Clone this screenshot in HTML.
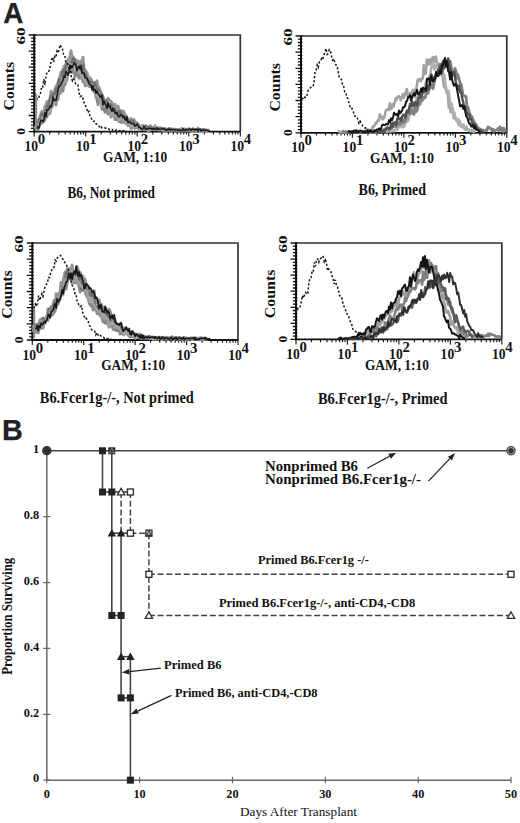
<!DOCTYPE html>
<html><head><meta charset="utf-8"><style>
html,body{margin:0;padding:0;background:#fff;}
svg{display:block;}
</style></head><body>
<svg width="520" height="823" viewBox="0 0 520 823">
<rect width="520" height="823" fill="#fff"/>
<path d="M34.2 35.0 H240.3 V131.6" fill="none" stroke="#333" stroke-width="1.7"/>
<path d="M34.2 34.5 V132.4" stroke="#111" stroke-width="2.0"/>
<path d="M33.2 131.6 H240.3" stroke="#111" stroke-width="1.8"/>
<path d="M28.7 131.6 H35.6 M31.0 128.4 H35.6 M31.0 125.2 H35.6 M31.0 121.9 H35.6 M31.0 118.7 H35.6 M28.7 115.5 H35.6 M31.0 112.3 H35.6 M31.0 109.1 H35.6 M31.0 105.8 H35.6 M31.0 102.6 H35.6 M28.7 99.4 H35.6 M31.0 96.2 H35.6 M31.0 93.0 H35.6 M31.0 89.7 H35.6 M31.0 86.5 H35.6 M28.7 83.3 H35.6 M31.0 80.1 H35.6 M31.0 76.9 H35.6 M31.0 73.6 H35.6 M31.0 70.4 H35.6 M28.7 67.2 H35.6 M31.0 64.0 H35.6 M31.0 60.8 H35.6 M31.0 57.5 H35.6 M31.0 54.3 H35.6 M28.7 51.1 H35.6 M31.0 47.9 H35.6 M31.0 44.7 H35.6 M31.0 41.4 H35.6 M31.0 38.2 H35.6 M28.7 35.0 H35.6" stroke="#111" stroke-width="1.3"/>
<path d="M34.2 131.6 V136.6 M49.7 131.6 V134.4 M58.8 131.6 V134.4 M65.2 131.6 V134.4 M70.2 131.6 V134.4 M74.3 131.6 V134.4 M77.7 131.6 V134.4 M80.7 131.6 V134.4 M83.4 131.6 V134.4 M85.7 131.6 V136.6 M101.2 131.6 V134.4 M110.3 131.6 V134.4 M116.7 131.6 V134.4 M121.7 131.6 V134.4 M125.8 131.6 V134.4 M129.3 131.6 V134.4 M132.3 131.6 V134.4 M134.9 131.6 V134.4 M137.2 131.6 V136.6 M152.8 131.6 V134.4 M161.8 131.6 V134.4 M168.3 131.6 V134.4 M173.3 131.6 V134.4 M177.3 131.6 V134.4 M180.8 131.6 V134.4 M183.8 131.6 V134.4 M186.4 131.6 V134.4 M188.8 131.6 V136.6 M204.3 131.6 V134.4 M213.4 131.6 V134.4 M219.8 131.6 V134.4 M224.8 131.6 V134.4 M228.9 131.6 V134.4 M232.3 131.6 V134.4 M235.3 131.6 V134.4 M237.9 131.6 V134.4 M240.3 131.6 V136.6" stroke="#111" stroke-width="1.1"/>
<text x="24.4" y="151.2" font-family="Liberation Serif" font-size="14.6" font-weight="bold" text-anchor="start" fill="#111" textLength="13.6" lengthAdjust="spacingAndGlyphs">10</text>
<text x="37.7" y="144.2" font-family="Liberation Serif" font-size="14.6" font-weight="bold" text-anchor="start" fill="#111" textLength="7.4" lengthAdjust="spacingAndGlyphs">0</text>
<text x="75.9" y="151.2" font-family="Liberation Serif" font-size="14.6" font-weight="bold" text-anchor="start" fill="#111" textLength="13.6" lengthAdjust="spacingAndGlyphs">10</text>
<text x="89.2" y="144.2" font-family="Liberation Serif" font-size="14.6" font-weight="bold" text-anchor="start" fill="#111" textLength="7.4" lengthAdjust="spacingAndGlyphs">1</text>
<text x="127.5" y="151.2" font-family="Liberation Serif" font-size="14.6" font-weight="bold" text-anchor="start" fill="#111" textLength="13.6" lengthAdjust="spacingAndGlyphs">10</text>
<text x="140.8" y="144.2" font-family="Liberation Serif" font-size="14.6" font-weight="bold" text-anchor="start" fill="#111" textLength="7.4" lengthAdjust="spacingAndGlyphs">2</text>
<text x="179.0" y="151.2" font-family="Liberation Serif" font-size="14.6" font-weight="bold" text-anchor="start" fill="#111" textLength="13.6" lengthAdjust="spacingAndGlyphs">10</text>
<text x="192.3" y="144.2" font-family="Liberation Serif" font-size="14.6" font-weight="bold" text-anchor="start" fill="#111" textLength="7.4" lengthAdjust="spacingAndGlyphs">3</text>
<text x="230.5" y="151.2" font-family="Liberation Serif" font-size="14.6" font-weight="bold" text-anchor="start" fill="#111" textLength="13.6" lengthAdjust="spacingAndGlyphs">10</text>
<text x="243.8" y="144.2" font-family="Liberation Serif" font-size="14.6" font-weight="bold" text-anchor="start" fill="#111" textLength="7.4" lengthAdjust="spacingAndGlyphs">4</text>
<text x="103.1" y="162.0" font-family="Liberation Serif" font-size="14.6" font-weight="bold" text-anchor="start" fill="#111" textLength="64" lengthAdjust="spacingAndGlyphs">GAM, 1:10</text>
<text x="25.3" y="44.6" font-family="Liberation Serif" font-size="13.3" font-weight="bold" text-anchor="start" fill="#111" textLength="17.2" lengthAdjust="spacingAndGlyphs" transform="rotate(-90 25.3 44.6)">60</text>
<text x="25.3" y="134.8" font-family="Liberation Serif" font-size="13.3" font-weight="bold" text-anchor="start" fill="#111" textLength="6.8" lengthAdjust="spacingAndGlyphs" transform="rotate(-90 25.3 134.8)">0</text>
<text x="13.6" y="110.4" font-family="Liberation Serif" font-size="14.2" font-weight="bold" text-anchor="start" fill="#111" textLength="48.6" lengthAdjust="spacingAndGlyphs" transform="rotate(-90 13.6 110.4)">Counts</text>
<path d="M35.0 128.9 L36.0 125.9 L37.0 122.6 L38.0 122.2 L39.0 120.9 L40.0 116.4 L41.0 114.2 L42.0 111.3 L43.0 114.3 L44.0 112.6 L45.0 106.2 L46.0 105.1 L47.0 101.6 L48.0 101.3 L49.0 101.7 L50.0 99.7 L51.0 91.3 L52.0 95.0 L53.0 94.6 L54.0 94.4 L55.0 89.1 L56.0 86.6 L57.0 85.5 L58.0 82.6 L59.0 80.1 L60.0 76.6 L61.0 72.1 L62.0 71.8 L63.0 76.1 L64.0 66.2 L65.0 70.4 L66.0 63.5 L67.0 66.0 L68.0 59.6 L69.0 60.4 L70.0 56.1 L71.0 50.8 L72.0 58.6 L73.0 56.7 L74.0 65.5 L75.0 63.0 L76.0 59.9 L77.0 62.6 L78.0 61.1 L79.0 62.2 L80.0 66.1 L81.0 60.9 L82.0 65.7 L83.0 57.2 L84.0 70.0 L85.0 69.4 L86.0 73.2 L87.0 72.4 L88.0 79.5 L89.0 76.9 L90.0 82.1 L91.0 78.9 L92.0 81.2 L93.0 83.1 L94.0 86.4 L95.0 82.5 L96.0 83.8 L97.0 80.9 L98.0 87.6 L99.0 87.2 L100.0 89.9 L101.0 92.6 L102.0 94.4 L103.0 97.1 L104.0 101.4 L105.0 103.0 L106.0 101.9 L107.0 100.0 L108.0 98.3 L109.0 100.2 L110.0 100.5 L111.0 101.5 L112.0 102.6 L113.0 105.1 L114.0 105.2 L115.0 104.3 L116.0 109.8 L117.0 111.2 L118.0 106.1 L119.0 110.7 L120.0 110.1 L121.0 111.4 L122.0 116.5 L123.0 111.0 L124.0 112.2 L125.0 115.9 L126.0 115.5 L127.0 117.6 L128.0 120.5 L129.0 119.9 L130.0 119.5 L131.0 118.6 L132.0 119.9 L133.0 121.6 L134.0 119.7 L135.0 124.0 L136.0 122.3 L137.0 122.9 L138.0 125.9 L139.0 128.6 L140.0 127.7 L141.0 126.5 L142.0 126.5 L143.0 125.5 L144.0 129.1 L145.0 127.8 L146.0 127.0 L147.0 128.1 L148.0 130.6 L149.0 127.0 L150.0 125.5 L151.0 126.8 L152.0 129.4 L153.0 128.8 L154.0 128.0 L155.0 125.8 L156.0 128.1 L157.0 128.4 L158.0 127.7 L159.0 128.7 L160.0 127.7 L161.0 129.3 L162.0 129.2 L163.0 128.7 L164.0 128.4 L165.0 128.9 L166.0 129.2 L167.0 130.5 L168.0 129.9 L169.0 129.9 L170.0 129.8 L171.0 129.2 L172.0 129.7 L173.0 129.1 L174.0 129.5 L175.0 129.8 L176.0 129.6 L177.0 129.4 L178.0 129.2 L179.0 129.9 L180.0 129.8 L181.0 130.5 L182.0 128.8 L183.0 128.9 L184.0 129.9 L185.0 130.1 L186.0 130.5 L187.0 129.7 L188.0 129.7 L189.0 128.6 L190.0 129.7 L191.0 130.3 L192.0 131.3 L193.0 129.1 L194.0 129.8 L195.0 130.9 L196.0 129.9 L197.0 130.9 L198.0 128.1 L199.0 129.4 L200.0 129.8 L201.0 130.2 L202.0 131.3 L203.0 130.2 L204.0 131.0 L205.0 129.9 L206.0 131.3 L207.0 131.2 L208.0 130.2 L209.0 130.1" fill="none" stroke="#959595" stroke-width="3.0" stroke-linejoin="round"/>
<path d="M35.0 129.0 L36.0 127.7 L37.0 129.1 L38.0 130.1 L39.0 126.6 L40.0 124.7 L41.0 123.8 L42.0 122.6 L43.0 122.2 L44.0 121.3 L45.0 119.8 L46.0 117.3 L47.0 116.6 L48.0 112.7 L49.0 111.6 L50.0 113.6 L51.0 107.3 L52.0 107.1 L53.0 103.0 L54.0 101.0 L55.0 101.4 L56.0 105.0 L57.0 96.3 L58.0 99.7 L59.0 89.1 L60.0 93.6 L61.0 91.0 L62.0 83.2 L63.0 91.0 L64.0 83.4 L65.0 84.8 L66.0 81.7 L67.0 79.9 L68.0 72.1 L69.0 72.3 L70.0 68.7 L71.0 66.3 L72.0 72.6 L73.0 61.6 L74.0 69.9 L75.0 77.0 L76.0 74.5 L77.0 70.7 L78.0 71.5 L79.0 78.2 L80.0 77.2 L81.0 78.2 L82.0 77.2 L83.0 81.9 L84.0 79.6 L85.0 85.7 L86.0 85.8 L87.0 82.5 L88.0 83.2 L89.0 86.3 L90.0 85.1 L91.0 86.9 L92.0 86.6 L93.0 87.3 L94.0 91.0 L95.0 92.3 L96.0 97.5 L97.0 99.6 L98.0 104.8 L99.0 99.3 L100.0 101.5 L101.0 101.9 L102.0 109.4 L103.0 107.5 L104.0 108.8 L105.0 112.3 L106.0 107.0 L107.0 107.4 L108.0 114.2 L109.0 111.7 L110.0 110.1 L111.0 117.2 L112.0 113.4 L113.0 112.6 L114.0 112.7 L115.0 119.7 L116.0 119.8 L117.0 118.0 L118.0 116.7 L119.0 121.7 L120.0 121.1 L121.0 122.3 L122.0 118.8 L123.0 122.4 L124.0 120.9 L125.0 121.1 L126.0 121.3 L127.0 124.1 L128.0 125.4 L129.0 124.4 L130.0 125.8 L131.0 128.6 L132.0 127.9 L133.0 126.2 L134.0 127.6 L135.0 128.4 L136.0 127.6 L137.0 125.6 L138.0 128.2 L139.0 128.1 L140.0 128.2 L141.0 128.7 L142.0 128.0 L143.0 128.3 L144.0 128.6 L145.0 129.7 L146.0 128.3 L147.0 128.6 L148.0 129.2 L149.0 130.7 L150.0 129.2 L151.0 129.9 L152.0 129.4 L153.0 129.6 L154.0 129.8 L155.0 128.7 L156.0 129.3 L157.0 128.7 L158.0 130.0 L159.0 129.6 L160.0 128.7 L161.0 129.4 L162.0 130.0 L163.0 130.1 L164.0 130.0 L165.0 129.7 L166.0 129.3 L167.0 129.7 L168.0 129.3 L169.0 129.3 L170.0 129.7 L171.0 129.0 L172.0 129.4 L173.0 129.9 L174.0 129.9 L175.0 129.8 L176.0 130.2 L177.0 130.6 L178.0 129.8 L179.0 130.1 L180.0 129.5 L181.0 130.2 L182.0 129.8 L183.0 129.8 L184.0 130.2 L185.0 129.8 L186.0 130.3 L187.0 130.2 L188.0 129.5 L189.0 129.7 L190.0 129.9 L191.0 130.4 L192.0 129.6 L193.0 128.8 L194.0 131.3 L195.0 129.4 L196.0 129.9 L197.0 129.5 L198.0 129.5 L199.0 130.7 L200.0 129.2 L201.0 130.5 L202.0 130.4 L203.0 129.9 L204.0 130.3 L205.0 130.2 L206.0 130.8 L207.0 131.3 L208.0 130.9 L209.0 131.3" fill="none" stroke="#888" stroke-width="2.8" stroke-linejoin="round"/>
<path d="M35.0 129.7 L36.0 126.8 L37.0 126.0 L38.0 124.3 L39.0 119.7 L40.0 119.5 L41.0 118.9 L42.0 113.6 L43.0 116.3 L44.0 116.0 L45.0 114.5 L46.0 111.2 L47.0 107.5 L48.0 105.6 L49.0 102.9 L50.0 98.8 L51.0 96.7 L52.0 97.1 L53.0 93.6 L54.0 94.2 L55.0 95.6 L56.0 89.4 L57.0 89.1 L58.0 87.6 L59.0 79.6 L60.0 81.0 L61.0 82.2 L62.0 78.2 L63.0 69.7 L64.0 74.4 L65.0 68.8 L66.0 66.9 L67.0 65.0 L68.0 62.7 L69.0 64.0 L70.0 62.9 L71.0 62.0 L72.0 62.6 L73.0 59.1 L74.0 58.6 L75.0 68.3 L76.0 63.8 L77.0 69.4 L78.0 68.9 L79.0 68.0 L80.0 67.5 L81.0 69.9 L82.0 75.6 L83.0 65.2 L84.0 74.1 L85.0 77.5 L86.0 74.7 L87.0 80.3 L88.0 84.6 L89.0 80.6 L90.0 82.2 L91.0 86.7 L92.0 82.5 L93.0 84.8 L94.0 90.2 L95.0 83.1 L96.0 88.3 L97.0 93.1 L98.0 89.7 L99.0 92.4 L100.0 92.3 L101.0 100.3 L102.0 95.7 L103.0 98.3 L104.0 100.8 L105.0 101.6 L106.0 100.5 L107.0 102.7 L108.0 105.0 L109.0 108.0 L110.0 104.2 L111.0 105.1 L112.0 107.4 L113.0 108.8 L114.0 108.6 L115.0 115.7 L116.0 111.4 L117.0 117.0 L118.0 112.8 L119.0 111.9 L120.0 110.9 L121.0 116.6 L122.0 115.6 L123.0 117.4 L124.0 121.8 L125.0 117.0 L126.0 119.2 L127.0 120.1 L128.0 123.0 L129.0 122.0 L130.0 122.2 L131.0 120.6 L132.0 122.7 L133.0 120.5 L134.0 124.7 L135.0 124.9 L136.0 125.2 L137.0 127.0 L138.0 124.2 L139.0 125.8 L140.0 128.8 L141.0 127.2 L142.0 126.1 L143.0 129.9 L144.0 127.9 L145.0 128.5 L146.0 125.7 L147.0 127.7 L148.0 128.6 L149.0 128.7 L150.0 127.4 L151.0 128.8 L152.0 127.3 L153.0 129.5 L154.0 128.8 L155.0 128.8 L156.0 129.1 L157.0 128.9 L158.0 128.5 L159.0 129.3 L160.0 129.8 L161.0 128.3 L162.0 128.3 L163.0 129.7 L164.0 129.2 L165.0 130.9 L166.0 128.9 L167.0 130.3 L168.0 129.9 L169.0 128.4 L170.0 130.3 L171.0 129.6 L172.0 130.2 L173.0 130.7 L174.0 130.3 L175.0 129.5 L176.0 130.4 L177.0 130.0 L178.0 129.3 L179.0 129.8 L180.0 130.5 L181.0 128.9 L182.0 129.7 L183.0 129.0 L184.0 130.4 L185.0 128.9 L186.0 130.6 L187.0 130.8 L188.0 130.1 L189.0 130.1 L190.0 129.7 L191.0 130.2 L192.0 129.5 L193.0 129.2 L194.0 130.3 L195.0 130.8 L196.0 130.2 L197.0 129.6 L198.0 129.6 L199.0 130.3 L200.0 130.7 L201.0 130.1 L202.0 129.6 L203.0 130.6 L204.0 129.4 L205.0 130.1 L206.0 130.3 L207.0 131.0 L208.0 130.1 L209.0 131.0" fill="none" stroke="#707070" stroke-width="2.8" stroke-linejoin="round"/>
<path d="M35.0 128.8 L36.0 126.7 L37.0 128.2 L38.0 124.9 L39.0 126.3 L40.0 121.5 L41.0 121.8 L42.0 118.1 L43.0 117.4 L44.0 117.0 L45.0 115.9 L46.0 112.8 L47.0 112.8 L48.0 113.3 L49.0 108.2 L50.0 112.0 L51.0 105.4 L52.0 98.6 L53.0 100.6 L54.0 104.2 L55.0 96.2 L56.0 96.1 L57.0 95.7 L58.0 93.4 L59.0 89.5 L60.0 85.7 L61.0 86.4 L62.0 78.7 L63.0 83.3 L64.0 76.6 L65.0 81.7 L66.0 81.1 L67.0 73.0 L68.0 69.1 L69.0 61.4 L70.0 67.2 L71.0 64.5 L72.0 68.5 L73.0 64.3 L74.0 65.0 L75.0 70.2 L76.0 66.2 L77.0 65.8 L78.0 69.3 L79.0 72.3 L80.0 73.8 L81.0 72.4 L82.0 78.4 L83.0 73.3 L84.0 80.2 L85.0 78.9 L86.0 83.9 L87.0 84.6 L88.0 85.5 L89.0 82.9 L90.0 85.3 L91.0 85.9 L92.0 84.4 L93.0 91.0 L94.0 87.7 L95.0 93.3 L96.0 95.6 L97.0 95.9 L98.0 92.9 L99.0 92.7 L100.0 100.0 L101.0 103.0 L102.0 105.8 L103.0 103.8 L104.0 104.3 L105.0 105.0 L106.0 106.1 L107.0 104.5 L108.0 108.6 L109.0 108.8 L110.0 111.2 L111.0 113.5 L112.0 116.5 L113.0 112.8 L114.0 114.9 L115.0 115.6 L116.0 116.5 L117.0 115.8 L118.0 116.3 L119.0 120.9 L120.0 118.3 L121.0 117.4 L122.0 118.3 L123.0 120.0 L124.0 119.9 L125.0 123.4 L126.0 120.9 L127.0 123.3 L128.0 123.8 L129.0 123.3 L130.0 124.5 L131.0 126.8 L132.0 128.5 L133.0 126.6 L134.0 126.2 L135.0 126.1 L136.0 125.3 L137.0 126.6 L138.0 127.0 L139.0 130.1 L140.0 126.8 L141.0 127.9 L142.0 125.7 L143.0 128.0 L144.0 129.0 L145.0 128.6 L146.0 128.4 L147.0 129.3 L148.0 129.7 L149.0 128.6 L150.0 129.2 L151.0 129.0 L152.0 128.9 L153.0 129.2 L154.0 128.6 L155.0 128.9 L156.0 129.0 L157.0 128.7 L158.0 129.2 L159.0 130.0 L160.0 129.3 L161.0 130.1 L162.0 129.3 L163.0 130.2 L164.0 129.6 L165.0 128.9 L166.0 129.3 L167.0 130.1 L168.0 130.5 L169.0 130.0 L170.0 129.2 L171.0 129.4 L172.0 130.6 L173.0 129.3 L174.0 129.6 L175.0 129.4 L176.0 129.0 L177.0 130.3 L178.0 129.5 L179.0 129.7 L180.0 129.2 L181.0 130.0 L182.0 130.7 L183.0 129.8 L184.0 129.3 L185.0 130.0 L186.0 130.1 L187.0 129.8 L188.0 130.0 L189.0 130.2 L190.0 130.2 L191.0 129.1 L192.0 130.2 L193.0 129.9 L194.0 129.4 L195.0 129.4 L196.0 131.0 L197.0 130.5 L198.0 130.8 L199.0 130.2 L200.0 131.3 L201.0 131.0 L202.0 130.3 L203.0 130.0 L204.0 130.9 L205.0 130.2 L206.0 129.8 L207.0 131.3 L208.0 130.2 L209.0 131.1" fill="none" stroke="#a0a0a0" stroke-width="2.6" stroke-linejoin="round"/>
<path d="M36.0 126.5 L37.0 126.2 L38.0 128.3 L39.0 127.8 L40.0 123.3 L41.0 120.1 L42.0 120.6 L43.0 121.8 L44.0 118.4 L45.0 112.7 L46.0 116.6 L47.0 109.9 L48.0 110.0 L49.0 108.7 L50.0 106.1 L51.0 106.9 L52.0 103.7 L53.0 97.0 L54.0 100.8 L55.0 99.8 L56.0 100.5 L57.0 95.8 L58.0 90.1 L59.0 86.3 L60.0 86.1 L61.0 84.2 L62.0 82.2 L63.0 80.4 L64.0 76.1 L65.0 77.3 L66.0 71.3 L67.0 72.8 L68.0 75.3 L69.0 72.0 L70.0 66.0 L71.0 65.7 L72.0 67.8 L73.0 65.8 L74.0 62.9 L75.0 64.3 L76.0 64.8 L77.0 70.8 L78.0 67.4 L79.0 66.0 L80.0 69.0 L81.0 65.4 L82.0 73.4 L83.0 72.7 L84.0 73.0 L85.0 77.5 L86.0 78.2 L87.0 78.4 L88.0 80.6 L89.0 83.5 L90.0 84.8 L91.0 84.9 L92.0 89.8 L93.0 85.8 L94.0 90.6 L95.0 89.5 L96.0 93.2 L97.0 91.3 L98.0 93.7 L99.0 94.5 L100.0 97.2 L101.0 96.8 L102.0 94.9 L103.0 105.0 L104.0 101.4 L105.0 103.7 L106.0 105.7 L107.0 108.5 L108.0 102.8 L109.0 106.9 L110.0 106.0 L111.0 109.9 L112.0 111.4 L113.0 108.2 L114.0 109.8 L115.0 112.9 L116.0 113.7 L117.0 112.7 L118.0 116.2 L119.0 116.9 L120.0 115.9 L121.0 114.5 L122.0 115.5 L123.0 117.6 L124.0 116.2 L125.0 119.5 L126.0 120.5 L127.0 117.0 L128.0 122.6 L129.0 121.9 L130.0 122.5 L131.0 123.5 L132.0 123.7 L133.0 123.5 L134.0 124.1 L135.0 126.1 L136.0 125.6 L137.0 124.1 L138.0 125.6 L139.0 127.6 L140.0 127.2 L141.0 128.8 L142.0 129.5 L143.0 128.7 L144.0 126.2 L145.0 128.7 L146.0 129.5 L147.0 128.6 L148.0 129.0 L149.0 128.2 L150.0 128.0 L151.0 128.9 L152.0 128.7 L153.0 129.3 L154.0 128.2 L155.0 129.3 L156.0 128.9 L157.0 127.7 L158.0 129.5 L159.0 129.0 L160.0 129.2 L161.0 129.0 L162.0 129.0 L163.0 128.5 L164.0 129.1 L165.0 129.1 L166.0 130.2 L167.0 129.4 L168.0 130.4 L169.0 129.0 L170.0 129.7 L171.0 129.2 L172.0 130.0 L173.0 129.6 L174.0 129.7 L175.0 129.4 L176.0 129.8 L177.0 130.1 L178.0 130.0 L179.0 130.1 L180.0 130.3 L181.0 130.5 L182.0 130.6 L183.0 128.8 L184.0 130.3 L185.0 130.5 L186.0 129.3 L187.0 129.7 L188.0 130.0 L189.0 129.3 L190.0 128.9 L191.0 130.4 L192.0 129.2 L193.0 129.6 L194.0 129.3 L195.0 130.3 L196.0 129.1 L197.0 129.4 L198.0 131.3 L199.0 129.4 L200.0 129.4 L201.0 130.9 L202.0 130.0 L203.0 130.3 L204.0 130.1 L205.0 130.7 L206.0 130.0 L207.0 130.1 L208.0 130.8 L209.0 131.0 L210.0 131.3" fill="none" stroke="#1a1a1a" stroke-width="1.6" stroke-linejoin="round"/>
<path d="M35.0 94.1 L36.1 97.2 L37.2 99.4 L38.3 98.9 L39.4 95.8 L40.5 93.3 L41.6 87.1 L42.7 87.6 L43.8 79.2 L44.9 84.9 L46.0 77.1 L47.1 71.8 L48.2 71.6 L49.3 70.6 L50.4 65.0 L51.5 59.8 L52.6 57.0 L53.7 62.1 L54.8 56.4 L55.9 57.2 L57.0 51.0 L58.1 52.8 L59.2 48.9 L60.3 44.7 L61.4 48.2 L62.5 49.1 L63.6 54.2 L64.7 54.9 L65.8 61.8 L66.9 61.8 L68.0 65.0 L69.1 68.8 L70.2 64.8 L71.3 77.3 L72.4 80.9 L73.5 78.8 L74.6 80.2 L75.7 84.4 L76.8 84.9 L77.9 85.0 L79.0 92.8 L80.1 96.6 L81.2 95.9 L82.3 95.8 L83.4 100.1 L84.5 104.2 L85.6 106.0 L86.7 108.0 L87.8 112.7 L88.9 111.4 L90.0 116.0 L91.1 117.8 L92.2 120.5 L93.3 121.5 L94.4 121.1 L95.5 123.4 L96.6 124.1 L97.7 124.3 L98.8 125.8 L99.9 127.7 L101.0 126.5 L102.1 128.0 L103.2 128.2 L104.3 128.1 L105.4 127.9 L106.5 129.0 L107.6 129.0 L108.7 129.0 L109.8 129.6 L110.9 129.5 L112.0 129.3 L113.1 130.8 L114.2 130.3 L115.3 130.8 L116.4 129.8 L117.5 130.4 L118.6 130.5 L119.7 130.8 L120.8 131.3 L121.9 130.9 L123.0 130.8 L124.1 131.0 L125.2 130.4 L126.3 130.8" fill="none" stroke="#151515" stroke-width="1.5" stroke-dasharray="2.2 1.9"/>
<path d="M36.1 129.6 V93.8" stroke="#8a8a8a" stroke-width="2"/>
<path d="M301.0 36.0 H506.8 V132.8" fill="none" stroke="#333" stroke-width="1.7"/>
<path d="M301.0 35.5 V133.6" stroke="#111" stroke-width="2.0"/>
<path d="M300.0 132.8 H506.8" stroke="#111" stroke-width="1.8"/>
<path d="M295.5 132.8 H302.4 M297.8 129.6 H302.4 M297.8 126.3 H302.4 M297.8 123.1 H302.4 M297.8 119.9 H302.4 M295.5 116.7 H302.4 M297.8 113.4 H302.4 M297.8 110.2 H302.4 M297.8 107.0 H302.4 M297.8 103.8 H302.4 M295.5 100.5 H302.4 M297.8 97.3 H302.4 M297.8 94.1 H302.4 M297.8 90.9 H302.4 M297.8 87.6 H302.4 M295.5 84.4 H302.4 M297.8 81.2 H302.4 M297.8 77.9 H302.4 M297.8 74.7 H302.4 M297.8 71.5 H302.4 M295.5 68.3 H302.4 M297.8 65.0 H302.4 M297.8 61.8 H302.4 M297.8 58.6 H302.4 M297.8 55.4 H302.4 M295.5 52.1 H302.4 M297.8 48.9 H302.4 M297.8 45.7 H302.4 M297.8 42.5 H302.4 M297.8 39.2 H302.4 M295.5 36.0 H302.4" stroke="#111" stroke-width="1.3"/>
<path d="M301.0 132.8 V137.8 M316.5 132.8 V135.6 M325.5 132.8 V135.6 M332.0 132.8 V135.6 M337.0 132.8 V135.6 M341.0 132.8 V135.6 M344.5 132.8 V135.6 M347.5 132.8 V135.6 M350.1 132.8 V135.6 M352.4 132.8 V137.8 M367.9 132.8 V135.6 M377.0 132.8 V135.6 M383.4 132.8 V135.6 M388.4 132.8 V135.6 M392.5 132.8 V135.6 M395.9 132.8 V135.6 M398.9 132.8 V135.6 M401.5 132.8 V135.6 M403.9 132.8 V137.8 M419.4 132.8 V135.6 M428.4 132.8 V135.6 M434.9 132.8 V135.6 M439.9 132.8 V135.6 M443.9 132.8 V135.6 M447.4 132.8 V135.6 M450.4 132.8 V135.6 M453.0 132.8 V135.6 M455.4 132.8 V137.8 M470.8 132.8 V135.6 M479.9 132.8 V135.6 M486.3 132.8 V135.6 M491.3 132.8 V135.6 M495.4 132.8 V135.6 M498.8 132.8 V135.6 M501.8 132.8 V135.6 M504.4 132.8 V135.6 M506.8 132.8 V137.8" stroke="#111" stroke-width="1.1"/>
<text x="291.2" y="152.4" font-family="Liberation Serif" font-size="14.6" font-weight="bold" text-anchor="start" fill="#111" textLength="13.6" lengthAdjust="spacingAndGlyphs">10</text>
<text x="304.5" y="145.4" font-family="Liberation Serif" font-size="14.6" font-weight="bold" text-anchor="start" fill="#111" textLength="7.4" lengthAdjust="spacingAndGlyphs">0</text>
<text x="342.6" y="152.4" font-family="Liberation Serif" font-size="14.6" font-weight="bold" text-anchor="start" fill="#111" textLength="13.6" lengthAdjust="spacingAndGlyphs">10</text>
<text x="355.9" y="145.4" font-family="Liberation Serif" font-size="14.6" font-weight="bold" text-anchor="start" fill="#111" textLength="7.4" lengthAdjust="spacingAndGlyphs">1</text>
<text x="394.1" y="152.4" font-family="Liberation Serif" font-size="14.6" font-weight="bold" text-anchor="start" fill="#111" textLength="13.6" lengthAdjust="spacingAndGlyphs">10</text>
<text x="407.4" y="145.4" font-family="Liberation Serif" font-size="14.6" font-weight="bold" text-anchor="start" fill="#111" textLength="7.4" lengthAdjust="spacingAndGlyphs">2</text>
<text x="445.6" y="152.4" font-family="Liberation Serif" font-size="14.6" font-weight="bold" text-anchor="start" fill="#111" textLength="13.6" lengthAdjust="spacingAndGlyphs">10</text>
<text x="458.9" y="145.4" font-family="Liberation Serif" font-size="14.6" font-weight="bold" text-anchor="start" fill="#111" textLength="7.4" lengthAdjust="spacingAndGlyphs">3</text>
<text x="497.0" y="152.4" font-family="Liberation Serif" font-size="14.6" font-weight="bold" text-anchor="start" fill="#111" textLength="13.6" lengthAdjust="spacingAndGlyphs">10</text>
<text x="510.3" y="145.4" font-family="Liberation Serif" font-size="14.6" font-weight="bold" text-anchor="start" fill="#111" textLength="7.4" lengthAdjust="spacingAndGlyphs">4</text>
<text x="369.9" y="163.2" font-family="Liberation Serif" font-size="14.6" font-weight="bold" text-anchor="start" fill="#111" textLength="64" lengthAdjust="spacingAndGlyphs">GAM, 1:10</text>
<text x="292.1" y="45.6" font-family="Liberation Serif" font-size="13.3" font-weight="bold" text-anchor="start" fill="#111" textLength="17.2" lengthAdjust="spacingAndGlyphs" transform="rotate(-90 292.1 45.6)">60</text>
<text x="292.1" y="136.0" font-family="Liberation Serif" font-size="13.3" font-weight="bold" text-anchor="start" fill="#111" textLength="6.8" lengthAdjust="spacingAndGlyphs" transform="rotate(-90 292.1 136.0)">0</text>
<text x="280.4" y="111.6" font-family="Liberation Serif" font-size="14.2" font-weight="bold" text-anchor="start" fill="#111" textLength="48.6" lengthAdjust="spacingAndGlyphs" transform="rotate(-90 280.4 111.6)">Counts</text>
<path d="M337.8 131.5 L338.8 131.2 L339.8 132.4 L340.8 132.4 L341.8 131.7 L342.8 130.9 L343.8 131.6 L344.8 132.5 L345.8 132.2 L346.8 131.8 L347.8 131.2 L348.8 131.7 L349.8 131.9 L350.8 131.8 L351.8 131.6 L352.8 132.1 L353.8 131.6 L354.8 131.5 L355.8 130.7 L356.8 131.6 L357.8 131.0 L358.8 132.1 L359.8 131.1 L360.8 131.4 L361.8 131.8 L362.8 131.5 L363.8 130.9 L364.8 131.4 L365.8 130.5 L366.8 130.0 L367.8 129.8 L368.8 129.7 L369.8 131.1 L370.8 129.9 L371.8 130.1 L372.8 126.7 L373.8 126.5 L374.8 124.8 L375.8 122.8 L376.8 123.0 L377.8 120.3 L378.8 120.5 L379.8 114.2 L380.8 118.0 L381.8 116.5 L382.8 119.2 L383.8 117.7 L384.8 115.3 L385.8 110.7 L386.8 109.4 L387.8 109.2 L388.8 110.1 L389.8 103.4 L390.8 109.1 L391.8 108.1 L392.8 104.1 L393.8 106.3 L394.8 101.8 L395.8 98.4 L396.8 99.3 L397.8 96.5 L398.8 96.1 L399.8 97.0 L400.8 100.4 L401.8 97.8 L402.8 94.1 L403.8 98.0 L404.8 94.7 L405.8 92.2 L406.8 89.0 L407.8 96.5 L408.8 94.6 L409.8 93.1 L410.8 92.8 L411.8 98.2 L412.8 90.0 L413.8 96.9 L414.8 89.9 L415.8 90.8 L416.8 86.1 L417.8 79.5 L418.8 79.6 L419.8 79.2 L420.8 81.3 L421.8 78.4 L422.8 78.5 L423.8 65.2 L424.8 73.9 L425.8 73.5 L426.8 59.7 L427.8 60.1 L428.8 64.6 L429.8 59.4 L430.8 63.7 L431.8 61.7 L432.8 57.1 L433.8 57.5 L434.8 61.7 L435.8 56.5 L436.8 61.5 L437.8 65.5 L438.8 71.7 L439.8 68.8 L440.8 72.0 L441.8 75.0 L442.8 77.1 L443.8 86.0 L444.8 87.8 L445.8 88.9 L446.8 93.3 L447.8 93.4 L448.8 107.3 L449.8 107.2 L450.8 112.3 L451.8 111.1 L452.8 108.5 L453.8 118.2 L454.8 117.5 L455.8 117.8 L456.8 120.5 L457.8 120.2 L458.8 125.1 L459.8 121.5 L460.8 125.7 L461.8 127.1 L462.8 125.3 L463.8 126.5 L464.8 129.1 L465.8 129.8 L466.8 129.4 L467.8 129.3 L468.8 129.7 L469.8 130.4 L470.8 131.5 L471.8 129.8 L472.8 130.7 L473.8 131.8 L474.8 132.2" fill="none" stroke="#a2a2a2" stroke-width="2.6" stroke-linejoin="round"/>
<path d="M358.4 131.7 L359.4 132.1 L360.4 129.9 L361.4 131.6 L362.4 131.8 L363.4 131.6 L364.4 132.2 L365.4 132.3 L366.4 131.5 L367.4 132.1 L368.4 131.3 L369.4 131.9 L370.4 132.5 L371.4 132.5 L372.4 132.2 L373.4 132.5 L374.4 131.7 L375.4 131.8 L376.4 131.0 L377.4 132.1 L378.4 131.6 L379.4 131.1 L380.4 131.0 L381.4 132.0 L382.4 130.5 L383.4 131.7 L384.4 130.6 L385.4 131.5 L386.4 131.6 L387.4 132.0 L388.4 131.3 L389.4 129.8 L390.4 131.6 L391.4 130.3 L392.4 130.4 L393.4 131.4 L394.4 130.2 L395.4 129.6 L396.4 130.0 L397.4 129.9 L398.4 126.8 L399.4 127.1 L400.4 123.9 L401.4 125.4 L402.4 127.4 L403.4 124.9 L404.4 126.4 L405.4 122.6 L406.4 121.4 L407.4 121.7 L408.4 120.5 L409.4 114.4 L410.4 114.6 L411.4 108.6 L412.4 111.6 L413.4 108.2 L414.4 107.6 L415.4 107.6 L416.4 98.4 L417.4 96.8 L418.4 100.7 L419.4 94.6 L420.4 99.8 L421.4 89.3 L422.4 88.3 L423.4 91.1 L424.4 88.8 L425.4 84.0 L426.4 80.2 L427.4 80.3 L428.4 80.2 L429.4 76.1 L430.4 73.8 L431.4 66.4 L432.4 65.9 L433.4 63.1 L434.4 69.6 L435.4 65.7 L436.4 66.5 L437.4 67.6 L438.4 66.8 L439.4 68.3 L440.4 74.3 L441.4 68.1 L442.4 70.5 L443.4 77.2 L444.4 75.2 L445.4 83.8 L446.4 89.6 L447.4 91.3 L448.4 90.7 L449.4 97.9 L450.4 104.4 L451.4 103.3 L452.4 109.2 L453.4 112.9 L454.4 112.7 L455.4 118.6 L456.4 120.5 L457.4 121.9 L458.4 119.2 L459.4 123.0 L460.4 125.6 L461.4 126.3 L462.4 124.7 L463.4 124.6 L464.4 128.6 L465.4 128.1 L466.4 126.7 L467.4 129.6 L468.4 130.6 L469.4 130.3 L470.4 130.6 L471.4 130.4 L472.4 130.8 L473.4 131.4 L474.4 131.4 L475.4 131.2" fill="none" stroke="#b0b0b0" stroke-width="2.6" stroke-linejoin="round"/>
<path d="M343.0 130.8 L344.0 132.5 L345.0 131.8 L346.0 132.1 L347.0 132.4 L348.0 132.3 L349.0 132.2 L350.0 132.0 L351.0 131.7 L352.0 131.3 L353.0 131.8 L354.0 131.2 L355.0 131.6 L356.0 131.8 L357.0 132.0 L358.0 132.4 L359.0 132.5 L360.0 131.8 L361.0 131.9 L362.0 131.6 L363.0 131.5 L364.0 132.4 L365.0 132.1 L366.0 132.3 L367.0 131.1 L368.0 131.7 L369.0 131.6 L370.0 132.1 L371.0 132.3 L372.0 131.9 L373.0 131.7 L374.0 131.3 L375.0 132.4 L376.0 131.4 L377.0 132.0 L378.0 131.8 L379.0 131.6 L380.0 131.4 L381.0 130.6 L382.0 130.0 L383.0 130.0 L384.0 130.1 L385.0 128.9 L386.0 128.5 L387.0 127.4 L388.0 127.8 L389.0 130.1 L390.0 128.5 L391.0 127.7 L392.0 125.4 L393.0 126.8 L394.0 124.9 L395.0 125.4 L396.0 127.1 L397.0 124.5 L398.0 122.9 L399.0 122.3 L400.0 124.7 L401.0 120.4 L402.0 121.3 L403.0 123.0 L404.0 119.6 L405.0 121.5 L406.0 119.4 L407.0 113.4 L408.0 111.4 L409.0 113.1 L410.0 113.7 L411.0 109.7 L412.0 111.9 L413.0 113.5 L414.0 114.4 L415.0 106.6 L416.0 111.8 L417.0 110.5 L418.0 106.1 L419.0 103.2 L420.0 104.4 L421.0 98.8 L422.0 100.9 L423.0 99.1 L424.0 97.1 L425.0 98.1 L426.0 94.2 L427.0 87.2 L428.0 93.5 L429.0 88.6 L430.0 85.8 L431.0 87.4 L432.0 84.9 L433.0 88.7 L434.0 83.3 L435.0 79.7 L436.0 74.1 L437.0 72.3 L438.0 74.9 L439.0 74.8 L440.0 64.1 L441.0 66.0 L442.0 73.6 L443.0 66.5 L444.0 66.5 L445.0 63.7 L446.0 66.1 L447.0 61.3 L448.0 62.9 L449.0 63.5 L450.0 61.0 L451.0 65.5 L452.0 71.6 L453.0 74.3 L454.0 71.8 L455.0 68.4 L456.0 71.3 L457.0 78.3 L458.0 74.8 L459.0 78.4 L460.0 83.6 L461.0 83.6 L462.0 88.6 L463.0 94.9 L464.0 95.7 L465.0 96.1 L466.0 96.3 L467.0 106.2 L468.0 107.4 L469.0 111.5 L470.0 113.9 L471.0 118.6 L472.0 116.8 L473.0 119.9 L474.0 121.4 L475.0 124.3 L476.0 124.3 L477.0 127.2 L478.0 127.6 L479.0 129.5 L480.0 128.8 L481.0 129.6 L482.0 130.7 L483.0 129.9 L484.0 130.9 L485.0 131.0 L486.0 130.1 L487.0 130.4 L488.0 127.0 L489.0 127.3 L490.0 128.2 L491.0 128.5 L492.0 130.7 L493.0 129.2 L494.0 131.4 L495.0 130.3 L496.0 130.1 L497.0 130.0 L498.0 128.3 L499.0 130.5 L500.0 126.8 L501.0 130.1 L502.0 128.3 L503.0 131.6 L504.0 128.3 L505.0 131.2 L506.0 129.3" fill="none" stroke="#808080" stroke-width="2.8" stroke-linejoin="round"/>
<path d="M353.2 132.2 L354.2 132.5 L355.2 131.1 L356.2 130.1 L357.2 131.7 L358.2 131.1 L359.2 131.1 L360.2 131.4 L361.2 131.4 L362.2 131.1 L363.2 132.0 L364.2 132.5 L365.2 132.5 L366.2 131.4 L367.2 131.5 L368.2 131.8 L369.2 132.5 L370.2 131.9 L371.2 131.7 L372.2 132.3 L373.2 132.1 L374.2 130.3 L375.2 130.8 L376.2 131.1 L377.2 131.4 L378.2 131.8 L379.2 131.8 L380.2 131.1 L381.2 132.0 L382.2 131.7 L383.2 130.5 L384.2 131.9 L385.2 131.0 L386.2 128.8 L387.2 128.5 L388.2 128.0 L389.2 128.7 L390.2 128.8 L391.2 123.4 L392.2 127.8 L393.2 122.8 L394.2 123.8 L395.2 122.2 L396.2 124.9 L397.2 118.8 L398.2 118.9 L399.2 119.0 L400.2 118.0 L401.2 120.9 L402.2 116.6 L403.2 114.8 L404.2 114.9 L405.2 117.7 L406.2 112.4 L407.2 110.6 L408.2 112.3 L409.2 108.1 L410.2 103.8 L411.2 106.3 L412.2 101.7 L413.2 105.8 L414.2 105.7 L415.2 102.2 L416.2 104.3 L417.2 105.4 L418.2 98.4 L419.2 97.8 L420.2 94.6 L421.2 97.3 L422.2 94.5 L423.2 90.2 L424.2 91.9 L425.2 89.9 L426.2 87.5 L427.2 89.8 L428.2 85.4 L429.2 89.2 L430.2 80.9 L431.2 74.4 L432.2 76.3 L433.2 78.0 L434.2 80.8 L435.2 78.4 L436.2 74.6 L437.2 75.1 L438.2 69.4 L439.2 69.4 L440.2 65.9 L441.2 68.4 L442.2 63.9 L443.2 61.2 L444.2 68.5 L445.2 64.4 L446.2 63.4 L447.2 62.4 L448.2 58.4 L449.2 65.7 L450.2 70.0 L451.2 73.8 L452.2 76.0 L453.2 72.7 L454.2 72.0 L455.2 78.2 L456.2 84.5 L457.2 85.3 L458.2 89.5 L459.2 86.0 L460.2 92.2 L461.2 92.2 L462.2 98.4 L463.2 102.0 L464.2 108.7 L465.2 106.6 L466.2 110.8 L467.2 113.7 L468.2 114.7 L469.2 114.4 L470.2 119.4 L471.2 118.8 L472.2 122.1 L473.2 126.8 L474.2 126.5 L475.2 124.0 L476.2 127.4 L477.2 129.2 L478.2 130.2 L479.2 130.1 L480.2 130.3 L481.2 131.3 L482.2 131.5 L483.2 131.6" fill="none" stroke="#505050" stroke-width="2.4" stroke-linejoin="round"/>
<path d="M348.1 132.5 L349.1 131.1 L350.1 131.7 L351.1 132.3 L352.1 131.4 L353.1 132.5 L354.1 130.5 L355.1 131.5 L356.1 131.9 L357.1 131.3 L358.1 132.5 L359.1 131.4 L360.1 131.1 L361.1 131.1 L362.1 131.4 L363.1 132.3 L364.1 131.4 L365.1 132.4 L366.1 131.5 L367.1 131.9 L368.1 132.0 L369.1 131.1 L370.1 130.3 L371.1 130.6 L372.1 131.7 L373.1 131.7 L374.1 131.7 L375.1 131.0 L376.1 130.1 L377.1 129.4 L378.1 129.6 L379.1 128.5 L380.1 129.7 L381.1 128.5 L382.1 125.3 L383.1 124.6 L384.1 125.1 L385.1 124.9 L386.1 123.8 L387.1 124.4 L388.1 124.2 L389.1 120.1 L390.1 122.1 L391.1 118.2 L392.1 120.3 L393.1 117.2 L394.1 112.8 L395.1 114.1 L396.1 114.9 L397.1 113.7 L398.1 116.9 L399.1 110.5 L400.1 113.2 L401.1 112.0 L402.1 110.4 L403.1 107.1 L404.1 107.4 L405.1 105.8 L406.1 101.6 L407.1 100.9 L408.1 97.0 L409.1 97.0 L410.1 95.1 L411.1 100.7 L412.1 96.9 L413.1 95.0 L414.1 93.3 L415.1 95.6 L416.1 92.2 L417.1 89.9 L418.1 94.5 L419.1 93.4 L420.1 92.4 L421.1 88.5 L422.1 91.6 L423.1 87.7 L424.1 88.6 L425.1 89.5 L426.1 90.9 L427.1 78.5 L428.1 79.1 L429.1 78.2 L430.1 84.8 L431.1 76.1 L432.1 79.0 L433.1 81.6 L434.1 79.2 L435.1 78.5 L436.1 71.7 L437.1 76.0 L438.1 76.1 L439.1 72.7 L440.1 70.2 L441.1 73.6 L442.1 64.2 L443.1 65.2 L444.1 60.1 L445.1 57.9 L446.1 66.5 L447.1 61.2 L448.1 70.9 L449.1 72.3 L450.1 79.6 L451.1 71.5 L452.1 79.6 L453.1 83.6 L454.1 85.7 L455.1 84.1 L456.1 85.2 L457.1 89.5 L458.1 95.7 L459.1 100.2 L460.1 106.4 L461.1 106.0 L462.1 105.1 L463.1 108.7 L464.1 105.7 L465.1 110.6 L466.1 116.1 L467.1 117.2 L468.1 120.1 L469.1 123.5 L470.1 123.5 L471.1 126.5 L472.1 125.8 L473.1 125.0 L474.1 128.6 L475.1 126.6 L476.1 129.7 L477.1 129.5 L478.1 130.2 L479.1 131.4 L480.1 132.1" fill="none" stroke="#151515" stroke-width="2.0" stroke-linejoin="round"/>
<path d="M301.8 99.4 L302.9 98.5 L304.0 96.4 L305.1 97.6 L306.2 97.4 L307.3 94.0 L308.4 89.9 L309.5 88.9 L310.6 87.6 L311.7 87.0 L312.8 86.8 L313.9 83.9 L315.0 71.6 L316.1 70.1 L317.2 64.9 L318.3 67.4 L319.4 62.0 L320.5 61.5 L321.6 58.4 L322.7 59.5 L323.8 55.3 L324.9 52.5 L326.0 48.5 L327.1 54.5 L328.2 53.3 L329.3 49.7 L330.4 50.7 L331.5 55.9 L332.6 60.1 L333.7 58.6 L334.8 62.5 L335.9 64.9 L337.0 65.5 L338.1 71.1 L339.2 77.3 L340.3 78.7 L341.4 79.4 L342.5 84.8 L343.6 86.0 L344.7 92.0 L345.8 92.6 L346.9 97.5 L348.0 98.7 L349.1 103.8 L350.2 106.7 L351.3 106.5 L352.4 109.5 L353.5 112.2 L354.6 116.1 L355.7 116.2 L356.8 116.5 L357.9 119.7 L359.0 123.3 L360.1 121.2 L361.2 123.3 L362.3 125.2 L363.4 127.1 L364.5 127.8 L365.6 127.8 L366.7 130.7 L367.8 129.7 L368.9 130.6 L370.0 130.5 L371.1 131.0 L372.2 131.2 L373.3 131.2 L374.4 130.9 L375.5 131.0 L376.6 132.5 L377.7 131.4" fill="none" stroke="#151515" stroke-width="1.5" stroke-dasharray="2.2 1.9"/>
<path d="M32.3 243.0 H238.0 V340.0" fill="none" stroke="#333" stroke-width="1.7"/>
<path d="M32.3 242.5 V340.8" stroke="#111" stroke-width="2.0"/>
<path d="M31.3 340.0 H238.0" stroke="#111" stroke-width="1.8"/>
<path d="M26.8 340.0 H33.7 M29.1 336.8 H33.7 M29.1 333.5 H33.7 M29.1 330.3 H33.7 M29.1 327.1 H33.7 M26.8 323.8 H33.7 M29.1 320.6 H33.7 M29.1 317.4 H33.7 M29.1 314.1 H33.7 M29.1 310.9 H33.7 M26.8 307.7 H33.7 M29.1 304.4 H33.7 M29.1 301.2 H33.7 M29.1 298.0 H33.7 M29.1 294.7 H33.7 M26.8 291.5 H33.7 M29.1 288.3 H33.7 M29.1 285.0 H33.7 M29.1 281.8 H33.7 M29.1 278.6 H33.7 M26.8 275.3 H33.7 M29.1 272.1 H33.7 M29.1 268.9 H33.7 M29.1 265.6 H33.7 M29.1 262.4 H33.7 M26.8 259.2 H33.7 M29.1 255.9 H33.7 M29.1 252.7 H33.7 M29.1 249.5 H33.7 M29.1 246.2 H33.7 M26.8 243.0 H33.7" stroke="#111" stroke-width="1.3"/>
<path d="M32.3 340.0 V345.0 M47.8 340.0 V342.8 M56.8 340.0 V342.8 M63.3 340.0 V342.8 M68.2 340.0 V342.8 M72.3 340.0 V342.8 M75.8 340.0 V342.8 M78.7 340.0 V342.8 M81.4 340.0 V342.8 M83.7 340.0 V345.0 M99.2 340.0 V342.8 M108.3 340.0 V342.8 M114.7 340.0 V342.8 M119.7 340.0 V342.8 M123.7 340.0 V342.8 M127.2 340.0 V342.8 M130.2 340.0 V342.8 M132.8 340.0 V342.8 M135.1 340.0 V345.0 M150.6 340.0 V342.8 M159.7 340.0 V342.8 M166.1 340.0 V342.8 M171.1 340.0 V342.8 M175.2 340.0 V342.8 M178.6 340.0 V342.8 M181.6 340.0 V342.8 M184.2 340.0 V342.8 M186.6 340.0 V345.0 M202.1 340.0 V342.8 M211.1 340.0 V342.8 M217.5 340.0 V342.8 M222.5 340.0 V342.8 M226.6 340.0 V342.8 M230.0 340.0 V342.8 M233.0 340.0 V342.8 M235.6 340.0 V342.8 M238.0 340.0 V345.0" stroke="#111" stroke-width="1.1"/>
<text x="22.5" y="359.6" font-family="Liberation Serif" font-size="14.6" font-weight="bold" text-anchor="start" fill="#111" textLength="13.6" lengthAdjust="spacingAndGlyphs">10</text>
<text x="35.8" y="352.6" font-family="Liberation Serif" font-size="14.6" font-weight="bold" text-anchor="start" fill="#111" textLength="7.4" lengthAdjust="spacingAndGlyphs">0</text>
<text x="73.9" y="359.6" font-family="Liberation Serif" font-size="14.6" font-weight="bold" text-anchor="start" fill="#111" textLength="13.6" lengthAdjust="spacingAndGlyphs">10</text>
<text x="87.2" y="352.6" font-family="Liberation Serif" font-size="14.6" font-weight="bold" text-anchor="start" fill="#111" textLength="7.4" lengthAdjust="spacingAndGlyphs">1</text>
<text x="125.3" y="359.6" font-family="Liberation Serif" font-size="14.6" font-weight="bold" text-anchor="start" fill="#111" textLength="13.6" lengthAdjust="spacingAndGlyphs">10</text>
<text x="138.6" y="352.6" font-family="Liberation Serif" font-size="14.6" font-weight="bold" text-anchor="start" fill="#111" textLength="7.4" lengthAdjust="spacingAndGlyphs">2</text>
<text x="176.8" y="359.6" font-family="Liberation Serif" font-size="14.6" font-weight="bold" text-anchor="start" fill="#111" textLength="13.6" lengthAdjust="spacingAndGlyphs">10</text>
<text x="190.1" y="352.6" font-family="Liberation Serif" font-size="14.6" font-weight="bold" text-anchor="start" fill="#111" textLength="7.4" lengthAdjust="spacingAndGlyphs">3</text>
<text x="228.2" y="359.6" font-family="Liberation Serif" font-size="14.6" font-weight="bold" text-anchor="start" fill="#111" textLength="13.6" lengthAdjust="spacingAndGlyphs">10</text>
<text x="241.5" y="352.6" font-family="Liberation Serif" font-size="14.6" font-weight="bold" text-anchor="start" fill="#111" textLength="7.4" lengthAdjust="spacingAndGlyphs">4</text>
<text x="101.2" y="370.4" font-family="Liberation Serif" font-size="14.6" font-weight="bold" text-anchor="start" fill="#111" textLength="64" lengthAdjust="spacingAndGlyphs">GAM, 1:10</text>
<text x="23.4" y="252.6" font-family="Liberation Serif" font-size="13.3" font-weight="bold" text-anchor="start" fill="#111" textLength="17.2" lengthAdjust="spacingAndGlyphs" transform="rotate(-90 23.4 252.6)">60</text>
<text x="23.4" y="343.2" font-family="Liberation Serif" font-size="13.3" font-weight="bold" text-anchor="start" fill="#111" textLength="6.8" lengthAdjust="spacingAndGlyphs" transform="rotate(-90 23.4 343.2)">0</text>
<text x="11.7" y="318.8" font-family="Liberation Serif" font-size="14.2" font-weight="bold" text-anchor="start" fill="#111" textLength="48.6" lengthAdjust="spacingAndGlyphs" transform="rotate(-90 11.7 318.8)">Counts</text>
<path d="M33.1 324.6 L34.1 327.0 L35.1 329.3 L36.1 324.9 L37.1 325.4 L38.1 324.4 L39.1 323.8 L40.1 319.8 L41.1 320.2 L42.1 318.7 L43.1 321.4 L44.1 321.0 L45.1 320.9 L46.1 317.4 L47.1 319.5 L48.1 308.8 L49.1 310.9 L50.1 309.9 L51.1 306.6 L52.1 308.2 L53.1 304.3 L54.1 300.6 L55.1 305.2 L56.1 293.8 L57.1 297.3 L58.1 293.7 L59.1 295.9 L60.1 291.8 L61.1 282.5 L62.1 286.1 L63.1 281.3 L64.1 276.5 L65.1 272.0 L66.1 282.2 L67.1 268.9 L68.1 271.9 L69.1 268.8 L70.1 275.4 L71.1 270.2 L72.1 265.0 L73.1 270.8 L74.1 272.6 L75.1 271.7 L76.1 271.8 L77.1 266.7 L78.1 269.9 L79.1 274.4 L80.1 272.4 L81.1 281.7 L82.1 285.3 L83.1 276.3 L84.1 285.7 L85.1 279.1 L86.1 285.9 L87.1 287.6 L88.1 286.5 L89.1 292.2 L90.1 293.3 L91.1 292.0 L92.1 293.6 L93.1 291.9 L94.1 290.5 L95.1 301.7 L96.1 302.7 L97.1 299.4 L98.1 300.9 L99.1 300.1 L100.1 306.5 L101.1 304.0 L102.1 307.0 L103.1 312.3 L104.1 307.3 L105.1 313.5 L106.1 309.0 L107.1 312.8 L108.1 313.4 L109.1 309.4 L110.1 311.0 L111.1 314.7 L112.1 316.3 L113.1 320.8 L114.1 317.9 L115.1 320.7 L116.1 324.7 L117.1 327.1 L118.1 324.4 L119.1 325.8 L120.1 324.7 L121.1 329.4 L122.1 329.9 L123.1 327.9 L124.1 328.9 L125.1 327.9 L126.1 328.3 L127.1 332.7 L128.1 335.1 L129.1 332.2 L130.1 333.9 L131.1 332.5 L132.1 336.4 L133.1 333.8 L134.1 333.9 L135.1 335.4 L136.1 334.2 L137.1 335.2 L138.1 335.5 L139.1 334.2 L140.1 334.5 L141.1 334.8 L142.1 336.0 L143.1 336.4 L144.1 335.9 L145.1 336.7 L146.1 337.4 L147.1 336.9 L148.1 336.7 L149.1 337.6 L150.1 338.2 L151.1 337.3 L152.1 338.2 L153.1 338.7 L154.1 338.1 L155.1 338.9 L156.1 337.8 L157.1 338.4 L158.1 338.0 L159.1 337.4 L160.1 337.4 L161.1 338.1 L162.1 339.5 L163.1 338.4 L164.1 338.8 L165.1 337.6 L166.1 337.2 L167.1 337.7 L168.1 337.8 L169.1 337.8 L170.1 337.8 L171.1 338.4 L172.1 337.7 L173.1 338.4 L174.1 339.0 L175.1 338.2 L176.1 337.3 L177.1 338.4 L178.1 339.4 L179.1 337.6 L180.1 338.2 L181.1 338.0 L182.1 338.7 L183.1 338.1 L184.1 337.4 L185.1 338.8 L186.1 338.0 L187.1 338.2 L188.1 339.0 L189.1 338.4 L190.1 338.1 L191.1 339.0 L192.1 337.8 L193.1 339.2 L194.1 337.8 L195.1 338.1 L196.1 338.4 L197.1 339.0 L198.1 339.1 L199.1 339.7 L200.1 338.8 L201.1 338.9 L202.1 338.6 L203.1 338.5 L204.1 339.1 L205.1 339.5 L206.1 338.8 L207.1 339.4 L208.1 339.5" fill="none" stroke="#959595" stroke-width="3.0" stroke-linejoin="round"/>
<path d="M33.1 333.0 L34.1 332.8 L35.1 331.1 L36.1 332.2 L37.1 332.5 L38.1 332.9 L39.1 328.1 L40.1 328.6 L41.1 328.3 L42.1 327.6 L43.1 328.0 L44.1 322.7 L45.1 323.5 L46.1 320.3 L47.1 315.7 L48.1 318.6 L49.1 317.1 L50.1 313.9 L51.1 315.5 L52.1 313.1 L53.1 314.2 L54.1 311.6 L55.1 311.5 L56.1 303.2 L57.1 301.3 L58.1 304.1 L59.1 300.8 L60.1 299.2 L61.1 290.7 L62.1 292.0 L63.1 292.7 L64.1 287.7 L65.1 283.5 L66.1 289.2 L67.1 281.8 L68.1 279.1 L69.1 278.7 L70.1 276.5 L71.1 276.1 L72.1 280.7 L73.1 282.5 L74.1 279.4 L75.1 282.8 L76.1 282.7 L77.1 278.6 L78.1 284.5 L79.1 287.0 L80.1 292.1 L81.1 288.2 L82.1 289.1 L83.1 289.2 L84.1 290.5 L85.1 291.6 L86.1 294.7 L87.1 296.9 L88.1 297.6 L89.1 302.7 L90.1 304.9 L91.1 306.0 L92.1 304.0 L93.1 310.1 L94.1 308.3 L95.1 309.2 L96.1 309.4 L97.1 313.8 L98.1 311.9 L99.1 313.1 L100.1 315.9 L101.1 316.1 L102.1 318.3 L103.1 321.8 L104.1 321.3 L105.1 323.2 L106.1 318.0 L107.1 323.1 L108.1 324.8 L109.1 327.2 L110.1 325.3 L111.1 325.3 L112.1 326.5 L113.1 329.4 L114.1 329.3 L115.1 330.0 L116.1 328.3 L117.1 330.8 L118.1 330.2 L119.1 327.6 L120.1 334.2 L121.1 331.8 L122.1 331.7 L123.1 334.5 L124.1 330.9 L125.1 333.5 L126.1 333.0 L127.1 333.2 L128.1 332.4 L129.1 335.8 L130.1 336.0 L131.1 337.0 L132.1 337.2 L133.1 333.2 L134.1 336.5 L135.1 338.5 L136.1 335.6 L137.1 335.8 L138.1 337.6 L139.1 337.2 L140.1 338.1 L141.1 338.5 L142.1 337.6 L143.1 338.2 L144.1 338.2 L145.1 337.6 L146.1 337.5 L147.1 337.9 L148.1 337.2 L149.1 338.3 L150.1 338.2 L151.1 337.6 L152.1 336.9 L153.1 337.1 L154.1 337.8 L155.1 338.3 L156.1 339.1 L157.1 337.5 L158.1 338.4 L159.1 337.1 L160.1 338.3 L161.1 339.5 L162.1 337.8 L163.1 338.3 L164.1 338.7 L165.1 338.3 L166.1 338.4 L167.1 338.3 L168.1 339.5 L169.1 338.4 L170.1 338.2 L171.1 339.2 L172.1 337.7 L173.1 338.6 L174.1 339.7 L175.1 337.6 L176.1 338.7 L177.1 338.5 L178.1 338.7 L179.1 337.4 L180.1 338.5 L181.1 339.0 L182.1 338.9 L183.1 338.3 L184.1 338.3 L185.1 339.0 L186.1 338.1 L187.1 339.0 L188.1 338.5 L189.1 338.3 L190.1 338.5 L191.1 338.5 L192.1 338.5 L193.1 338.9 L194.1 338.5 L195.1 338.5 L196.1 339.4 L197.1 339.5 L198.1 338.6 L199.1 338.8 L200.1 338.8 L201.1 338.6 L202.1 338.9 L203.1 339.5 L204.1 339.0 L205.1 339.7 L206.1 338.5 L207.1 338.9 L208.1 339.5" fill="none" stroke="#888" stroke-width="2.8" stroke-linejoin="round"/>
<path d="M33.1 326.5 L34.1 328.4 L35.1 330.1 L36.1 324.8 L37.1 330.7 L38.1 327.0 L39.1 324.3 L40.1 323.7 L41.1 322.7 L42.1 325.1 L43.1 318.1 L44.1 322.5 L45.1 319.7 L46.1 318.0 L47.1 316.3 L48.1 316.0 L49.1 309.6 L50.1 312.2 L51.1 308.7 L52.1 313.5 L53.1 305.9 L54.1 305.8 L55.1 302.1 L56.1 300.9 L57.1 299.1 L58.1 298.6 L59.1 295.4 L60.1 292.6 L61.1 290.6 L62.1 288.3 L63.1 286.0 L64.1 281.3 L65.1 283.9 L66.1 273.5 L67.1 275.1 L68.1 270.9 L69.1 275.1 L70.1 279.0 L71.1 279.8 L72.1 277.5 L73.1 276.9 L74.1 276.4 L75.1 276.6 L76.1 273.4 L77.1 282.3 L78.1 271.1 L79.1 279.5 L80.1 279.9 L81.1 288.2 L82.1 283.6 L83.1 290.4 L84.1 285.5 L85.1 287.3 L86.1 289.0 L87.1 291.6 L88.1 293.5 L89.1 295.0 L90.1 292.7 L91.1 296.0 L92.1 296.5 L93.1 293.2 L94.1 300.3 L95.1 305.0 L96.1 309.5 L97.1 310.7 L98.1 306.0 L99.1 305.0 L100.1 311.2 L101.1 312.9 L102.1 311.8 L103.1 312.2 L104.1 311.2 L105.1 314.5 L106.1 316.6 L107.1 314.5 L108.1 319.4 L109.1 321.5 L110.1 321.5 L111.1 320.6 L112.1 322.0 L113.1 322.3 L114.1 323.4 L115.1 320.6 L116.1 324.4 L117.1 329.7 L118.1 329.4 L119.1 327.2 L120.1 329.9 L121.1 325.5 L122.1 330.4 L123.1 330.8 L124.1 330.3 L125.1 331.5 L126.1 330.8 L127.1 332.8 L128.1 332.4 L129.1 334.4 L130.1 336.8 L131.1 333.3 L132.1 331.7 L133.1 336.0 L134.1 335.7 L135.1 334.1 L136.1 336.4 L137.1 335.8 L138.1 336.6 L139.1 335.8 L140.1 336.9 L141.1 335.7 L142.1 336.9 L143.1 337.2 L144.1 337.9 L145.1 337.1 L146.1 337.9 L147.1 337.0 L148.1 337.2 L149.1 336.1 L150.1 338.2 L151.1 337.8 L152.1 337.3 L153.1 339.2 L154.1 337.7 L155.1 337.1 L156.1 338.2 L157.1 338.2 L158.1 337.5 L159.1 338.0 L160.1 338.0 L161.1 337.7 L162.1 338.7 L163.1 337.1 L164.1 338.5 L165.1 338.3 L166.1 338.5 L167.1 339.7 L168.1 339.2 L169.1 338.5 L170.1 338.3 L171.1 337.7 L172.1 336.8 L173.1 337.9 L174.1 338.4 L175.1 338.8 L176.1 337.6 L177.1 338.8 L178.1 338.4 L179.1 337.7 L180.1 338.5 L181.1 338.5 L182.1 338.4 L183.1 339.4 L184.1 338.6 L185.1 338.4 L186.1 338.3 L187.1 338.7 L188.1 339.7 L189.1 339.0 L190.1 338.1 L191.1 339.0 L192.1 339.1 L193.1 338.3 L194.1 338.3 L195.1 338.5 L196.1 338.2 L197.1 338.1 L198.1 338.4 L199.1 338.5 L200.1 337.8 L201.1 339.6 L202.1 337.7 L203.1 339.0 L204.1 339.7 L205.1 338.9 L206.1 338.8 L207.1 339.7 L208.1 339.4" fill="none" stroke="#707070" stroke-width="2.8" stroke-linejoin="round"/>
<path d="M33.1 331.9 L34.1 327.2 L35.1 327.1 L36.1 330.9 L37.1 328.4 L38.1 332.2 L39.1 325.2 L40.1 326.8 L41.1 325.6 L42.1 321.2 L43.1 325.6 L44.1 320.9 L45.1 323.2 L46.1 319.9 L47.1 314.7 L48.1 320.9 L49.1 317.6 L50.1 310.9 L51.1 311.5 L52.1 313.2 L53.1 307.5 L54.1 305.4 L55.1 305.2 L56.1 307.0 L57.1 301.0 L58.1 297.0 L59.1 301.0 L60.1 290.7 L61.1 292.4 L62.1 288.7 L63.1 295.2 L64.1 281.0 L65.1 280.8 L66.1 278.6 L67.1 284.0 L68.1 277.5 L69.1 276.2 L70.1 273.6 L71.1 271.4 L72.1 283.6 L73.1 274.6 L74.1 281.0 L75.1 279.7 L76.1 276.8 L77.1 282.6 L78.1 284.1 L79.1 282.1 L80.1 285.1 L81.1 286.3 L82.1 285.8 L83.1 288.4 L84.1 289.1 L85.1 291.3 L86.1 290.3 L87.1 291.5 L88.1 297.8 L89.1 300.0 L90.1 301.3 L91.1 298.8 L92.1 298.4 L93.1 303.0 L94.1 305.6 L95.1 307.2 L96.1 309.2 L97.1 309.8 L98.1 311.9 L99.1 310.0 L100.1 311.1 L101.1 312.9 L102.1 318.0 L103.1 312.4 L104.1 315.2 L105.1 318.7 L106.1 317.4 L107.1 318.2 L108.1 320.9 L109.1 326.0 L110.1 324.3 L111.1 324.2 L112.1 322.1 L113.1 322.4 L114.1 324.4 L115.1 327.2 L116.1 325.6 L117.1 328.4 L118.1 325.4 L119.1 328.4 L120.1 330.1 L121.1 331.2 L122.1 330.6 L123.1 331.3 L124.1 335.0 L125.1 330.6 L126.1 331.1 L127.1 333.9 L128.1 332.3 L129.1 335.6 L130.1 335.2 L131.1 335.5 L132.1 336.0 L133.1 336.6 L134.1 335.5 L135.1 336.5 L136.1 335.8 L137.1 336.9 L138.1 336.2 L139.1 337.4 L140.1 337.6 L141.1 338.3 L142.1 336.7 L143.1 336.9 L144.1 336.8 L145.1 338.1 L146.1 338.1 L147.1 337.6 L148.1 338.3 L149.1 337.1 L150.1 338.3 L151.1 337.3 L152.1 337.7 L153.1 339.5 L154.1 338.4 L155.1 338.4 L156.1 339.1 L157.1 338.7 L158.1 339.1 L159.1 338.9 L160.1 338.1 L161.1 338.4 L162.1 338.4 L163.1 338.9 L164.1 338.4 L165.1 339.0 L166.1 338.1 L167.1 338.7 L168.1 338.9 L169.1 338.8 L170.1 338.6 L171.1 337.6 L172.1 338.6 L173.1 338.7 L174.1 339.3 L175.1 338.1 L176.1 338.4 L177.1 338.9 L178.1 338.1 L179.1 339.1 L180.1 338.1 L181.1 339.2 L182.1 339.2 L183.1 338.8 L184.1 339.1 L185.1 338.0 L186.1 339.4 L187.1 338.5 L188.1 338.6 L189.1 338.9 L190.1 338.8 L191.1 337.8 L192.1 339.7 L193.1 338.9 L194.1 339.1 L195.1 338.2 L196.1 339.1 L197.1 338.8 L198.1 339.1 L199.1 338.0 L200.1 338.2 L201.1 338.6 L202.1 339.5 L203.1 338.8 L204.1 339.0 L205.1 339.0 L206.1 339.7 L207.1 339.5 L208.1 339.7" fill="none" stroke="#a0a0a0" stroke-width="2.6" stroke-linejoin="round"/>
<path d="M35.2 329.1 L36.2 328.4 L37.2 325.8 L38.2 330.9 L39.2 325.6 L40.2 327.3 L41.2 323.2 L42.2 324.8 L43.2 323.5 L44.2 321.4 L45.2 322.7 L46.2 320.6 L47.2 319.6 L48.2 314.4 L49.2 315.0 L50.2 317.7 L51.2 311.6 L52.2 310.9 L53.2 310.2 L54.2 305.2 L55.2 303.8 L56.2 308.1 L57.2 298.7 L58.2 301.7 L59.2 300.6 L60.2 298.8 L61.2 295.0 L62.2 289.7 L63.2 293.7 L64.2 287.4 L65.2 285.3 L66.2 281.9 L67.2 281.3 L68.2 276.6 L69.2 274.4 L70.2 278.5 L71.2 273.5 L72.2 279.3 L73.2 273.4 L74.2 271.3 L75.2 274.2 L76.2 266.1 L77.2 271.9 L78.2 276.0 L79.2 272.2 L80.2 276.7 L81.2 274.6 L82.2 278.9 L83.2 280.8 L84.2 288.8 L85.2 287.3 L86.2 283.7 L87.2 284.7 L88.2 285.8 L89.2 288.8 L90.2 288.0 L91.2 289.6 L92.2 292.0 L93.2 291.1 L94.2 292.8 L95.2 298.2 L96.2 297.3 L97.2 298.2 L98.2 303.0 L99.2 308.9 L100.2 305.4 L101.2 305.0 L102.2 311.7 L103.2 311.8 L104.2 312.3 L105.2 306.5 L106.2 309.4 L107.2 312.9 L108.2 311.0 L109.2 313.4 L110.2 318.9 L111.2 317.3 L112.2 315.2 L113.2 318.8 L114.2 314.8 L115.2 321.9 L116.2 323.2 L117.2 324.0 L118.2 324.1 L119.2 325.0 L120.2 323.3 L121.2 322.8 L122.2 328.0 L123.2 331.2 L124.2 329.8 L125.2 329.4 L126.2 327.2 L127.2 329.4 L128.2 331.1 L129.2 328.5 L130.2 334.3 L131.2 334.8 L132.2 331.1 L133.2 332.6 L134.2 333.8 L135.2 336.1 L136.2 334.1 L137.2 334.6 L138.2 336.4 L139.2 335.7 L140.2 338.2 L141.2 335.0 L142.2 338.3 L143.2 335.5 L144.2 338.1 L145.2 337.4 L146.2 337.1 L147.2 337.6 L148.2 336.8 L149.2 337.8 L150.2 337.4 L151.2 337.2 L152.2 337.2 L153.2 337.3 L154.2 338.0 L155.2 336.9 L156.2 338.1 L157.2 338.5 L158.2 338.0 L159.2 337.1 L160.2 339.1 L161.2 338.5 L162.2 337.4 L163.2 338.1 L164.2 339.0 L165.2 337.9 L166.2 337.9 L167.2 338.3 L168.2 339.0 L169.2 338.4 L170.2 338.6 L171.2 337.5 L172.2 338.9 L173.2 339.4 L174.2 338.2 L175.2 338.5 L176.2 337.7 L177.2 339.7 L178.2 338.5 L179.2 337.9 L180.2 338.6 L181.2 338.3 L182.2 338.9 L183.2 337.5 L184.2 339.2 L185.2 338.5 L186.2 338.6 L187.2 338.6 L188.2 338.2 L189.2 338.6 L190.2 338.5 L191.2 338.3 L192.2 338.4 L193.2 338.0 L194.2 339.1 L195.2 337.6 L196.2 339.6 L197.2 339.6 L198.2 339.0 L199.2 339.3 L200.2 338.3 L201.2 338.4 L202.2 338.3 L203.2 338.4 L204.2 338.7 L205.2 337.4 L206.2 339.6 L207.2 339.3 L208.2 339.6 L209.2 338.8 L210.2 339.6" fill="none" stroke="#1a1a1a" stroke-width="1.8" stroke-linejoin="round"/>
<path d="M33.1 312.2 L34.2 307.2 L35.3 304.0 L36.4 306.5 L37.5 302.3 L38.6 295.5 L39.7 300.3 L40.8 296.7 L41.9 293.5 L43.0 296.3 L44.1 291.1 L45.2 285.7 L46.3 284.5 L47.4 283.1 L48.5 277.4 L49.6 277.8 L50.7 272.6 L51.8 270.0 L52.9 267.5 L54.0 267.3 L55.1 260.1 L56.2 261.1 L57.3 257.7 L58.4 256.8 L59.5 256.7 L60.6 255.5 L61.7 257.7 L62.8 258.9 L63.9 260.5 L65.0 262.9 L66.1 263.9 L67.2 267.0 L68.3 269.1 L69.4 276.4 L70.5 274.4 L71.6 284.4 L72.7 286.2 L73.8 288.4 L74.9 293.5 L76.0 293.7 L77.1 301.0 L78.2 303.0 L79.3 306.8 L80.4 306.6 L81.5 305.8 L82.6 312.6 L83.7 314.5 L84.8 318.3 L85.9 317.8 L87.0 319.6 L88.1 321.0 L89.2 325.2 L90.3 326.6 L91.4 329.1 L92.5 330.6 L93.6 331.3 L94.7 331.3 L95.8 334.8 L96.9 332.5 L98.0 335.0 L99.1 334.0 L100.2 335.0 L101.3 336.5 L102.4 337.1 L103.5 337.3 L104.6 338.5 L105.7 338.0 L106.8 338.5 L107.9 338.5 L109.0 339.0 L110.1 338.9 L111.2 339.4 L112.3 339.5 L113.4 339.1 L114.5 339.0" fill="none" stroke="#151515" stroke-width="1.5" stroke-dasharray="2.2 1.9"/>
<path d="M34.2 338.0 V307.8" stroke="#8a8a8a" stroke-width="2"/>
<path d="M296.0 243.0 H501.8 V339.4" fill="none" stroke="#333" stroke-width="1.7"/>
<path d="M296.0 242.5 V340.2" stroke="#111" stroke-width="2.0"/>
<path d="M295.0 339.4 H501.8" stroke="#111" stroke-width="1.8"/>
<path d="M290.5 339.4 H297.4 M292.8 336.2 H297.4 M292.8 333.0 H297.4 M292.8 329.8 H297.4 M292.8 326.5 H297.4 M290.5 323.3 H297.4 M292.8 320.1 H297.4 M292.8 316.9 H297.4 M292.8 313.7 H297.4 M292.8 310.5 H297.4 M290.5 307.3 H297.4 M292.8 304.1 H297.4 M292.8 300.8 H297.4 M292.8 297.6 H297.4 M292.8 294.4 H297.4 M290.5 291.2 H297.4 M292.8 288.0 H297.4 M292.8 284.8 H297.4 M292.8 281.6 H297.4 M292.8 278.3 H297.4 M290.5 275.1 H297.4 M292.8 271.9 H297.4 M292.8 268.7 H297.4 M292.8 265.5 H297.4 M292.8 262.3 H297.4 M290.5 259.1 H297.4 M292.8 255.9 H297.4 M292.8 252.6 H297.4 M292.8 249.4 H297.4 M292.8 246.2 H297.4 M290.5 243.0 H297.4" stroke="#111" stroke-width="1.3"/>
<path d="M296.0 339.4 V344.4 M311.5 339.4 V342.2 M320.5 339.4 V342.2 M327.0 339.4 V342.2 M332.0 339.4 V342.2 M336.0 339.4 V342.2 M339.5 339.4 V342.2 M342.5 339.4 V342.2 M345.1 339.4 V342.2 M347.4 339.4 V344.4 M362.9 339.4 V342.2 M372.0 339.4 V342.2 M378.4 339.4 V342.2 M383.4 339.4 V342.2 M387.5 339.4 V342.2 M390.9 339.4 V342.2 M393.9 339.4 V342.2 M396.5 339.4 V342.2 M398.9 339.4 V344.4 M414.4 339.4 V342.2 M423.4 339.4 V342.2 M429.9 339.4 V342.2 M434.9 339.4 V342.2 M438.9 339.4 V342.2 M442.4 339.4 V342.2 M445.4 339.4 V342.2 M448.0 339.4 V342.2 M450.4 339.4 V344.4 M465.8 339.4 V342.2 M474.9 339.4 V342.2 M481.3 339.4 V342.2 M486.3 339.4 V342.2 M490.4 339.4 V342.2 M493.8 339.4 V342.2 M496.8 339.4 V342.2 M499.4 339.4 V342.2 M501.8 339.4 V344.4" stroke="#111" stroke-width="1.1"/>
<text x="286.2" y="359.0" font-family="Liberation Serif" font-size="14.6" font-weight="bold" text-anchor="start" fill="#111" textLength="13.6" lengthAdjust="spacingAndGlyphs">10</text>
<text x="299.5" y="352.0" font-family="Liberation Serif" font-size="14.6" font-weight="bold" text-anchor="start" fill="#111" textLength="7.4" lengthAdjust="spacingAndGlyphs">0</text>
<text x="337.6" y="359.0" font-family="Liberation Serif" font-size="14.6" font-weight="bold" text-anchor="start" fill="#111" textLength="13.6" lengthAdjust="spacingAndGlyphs">10</text>
<text x="350.9" y="352.0" font-family="Liberation Serif" font-size="14.6" font-weight="bold" text-anchor="start" fill="#111" textLength="7.4" lengthAdjust="spacingAndGlyphs">1</text>
<text x="389.1" y="359.0" font-family="Liberation Serif" font-size="14.6" font-weight="bold" text-anchor="start" fill="#111" textLength="13.6" lengthAdjust="spacingAndGlyphs">10</text>
<text x="402.4" y="352.0" font-family="Liberation Serif" font-size="14.6" font-weight="bold" text-anchor="start" fill="#111" textLength="7.4" lengthAdjust="spacingAndGlyphs">2</text>
<text x="440.6" y="359.0" font-family="Liberation Serif" font-size="14.6" font-weight="bold" text-anchor="start" fill="#111" textLength="13.6" lengthAdjust="spacingAndGlyphs">10</text>
<text x="453.9" y="352.0" font-family="Liberation Serif" font-size="14.6" font-weight="bold" text-anchor="start" fill="#111" textLength="7.4" lengthAdjust="spacingAndGlyphs">3</text>
<text x="492.0" y="359.0" font-family="Liberation Serif" font-size="14.6" font-weight="bold" text-anchor="start" fill="#111" textLength="13.6" lengthAdjust="spacingAndGlyphs">10</text>
<text x="505.3" y="352.0" font-family="Liberation Serif" font-size="14.6" font-weight="bold" text-anchor="start" fill="#111" textLength="7.4" lengthAdjust="spacingAndGlyphs">4</text>
<text x="364.9" y="369.8" font-family="Liberation Serif" font-size="14.6" font-weight="bold" text-anchor="start" fill="#111" textLength="64" lengthAdjust="spacingAndGlyphs">GAM, 1:10</text>
<text x="287.1" y="252.6" font-family="Liberation Serif" font-size="13.3" font-weight="bold" text-anchor="start" fill="#111" textLength="17.2" lengthAdjust="spacingAndGlyphs" transform="rotate(-90 287.1 252.6)">60</text>
<text x="287.1" y="342.6" font-family="Liberation Serif" font-size="13.3" font-weight="bold" text-anchor="start" fill="#111" textLength="6.8" lengthAdjust="spacingAndGlyphs" transform="rotate(-90 287.1 342.6)">0</text>
<text x="275.4" y="318.2" font-family="Liberation Serif" font-size="14.2" font-weight="bold" text-anchor="start" fill="#111" textLength="48.6" lengthAdjust="spacingAndGlyphs" transform="rotate(-90 275.4 318.2)">Counts</text>
<path d="M343.1 338.7 L344.1 338.6 L345.1 338.6 L346.1 338.1 L347.1 338.5 L348.1 339.1 L349.1 338.1 L350.1 338.2 L351.1 338.0 L352.1 337.6 L353.1 337.3 L354.1 336.6 L355.1 336.7 L356.1 336.8 L357.1 337.1 L358.1 337.0 L359.1 336.2 L360.1 335.5 L361.1 335.9 L362.1 335.7 L363.1 334.4 L364.1 336.6 L365.1 334.4 L366.1 332.6 L367.1 331.4 L368.1 332.5 L369.1 330.9 L370.1 330.6 L371.1 329.2 L372.1 332.0 L373.1 328.8 L374.1 331.8 L375.1 332.0 L376.1 328.6 L377.1 328.1 L378.1 323.5 L379.1 322.7 L380.1 325.2 L381.1 319.7 L382.1 322.4 L383.1 319.4 L384.1 318.9 L385.1 317.2 L386.1 315.0 L387.1 314.6 L388.1 314.1 L389.1 312.1 L390.1 311.0 L391.1 312.1 L392.1 310.8 L393.1 308.7 L394.1 304.9 L395.1 305.7 L396.1 299.0 L397.1 305.6 L398.1 305.3 L399.1 299.1 L400.1 295.9 L401.1 296.8 L402.1 294.3 L403.1 291.1 L404.1 294.0 L405.1 296.6 L406.1 293.1 L407.1 288.0 L408.1 293.9 L409.1 288.0 L410.1 285.6 L411.1 285.4 L412.1 280.2 L413.1 278.8 L414.1 272.4 L415.1 275.2 L416.1 277.9 L417.1 276.8 L418.1 276.7 L419.1 269.4 L420.1 272.8 L421.1 269.4 L422.1 264.7 L423.1 267.9 L424.1 264.7 L425.1 268.5 L426.1 264.6 L427.1 262.2 L428.1 260.6 L429.1 260.4 L430.1 267.3 L431.1 268.9 L432.1 271.1 L433.1 269.7 L434.1 273.0 L435.1 278.1 L436.1 285.1 L437.1 281.4 L438.1 284.7 L439.1 284.7 L440.1 291.6 L441.1 289.0 L442.1 298.1 L443.1 294.5 L444.1 301.5 L445.1 306.8 L446.1 312.0 L447.1 312.7 L448.1 310.8 L449.1 314.0 L450.1 316.7 L451.1 324.9 L452.1 321.4 L453.1 323.0 L454.1 326.2 L455.1 327.7 L456.1 328.1 L457.1 326.9 L458.1 333.2 L459.1 333.6 L460.1 332.2 L461.1 335.3 L462.1 335.6 L463.1 335.4 L464.1 337.7 L465.1 336.6 L466.1 337.9 L467.1 337.2 L468.1 338.0" fill="none" stroke="#a0a0a0" stroke-width="2.6" stroke-linejoin="round"/>
<path d="M343.1 337.7 L344.1 338.4 L345.1 338.2 L346.1 338.0 L347.1 339.0 L348.1 339.1 L349.1 339.1 L350.1 338.3 L351.1 337.9 L352.1 338.4 L353.1 339.1 L354.1 337.5 L355.1 339.0 L356.1 338.2 L357.1 338.0 L358.1 337.4 L359.1 336.7 L360.1 337.9 L361.1 337.0 L362.1 336.5 L363.1 337.1 L364.1 336.4 L365.1 336.1 L366.1 337.7 L367.1 337.4 L368.1 335.2 L369.1 335.0 L370.1 333.7 L371.1 330.5 L372.1 331.5 L373.1 331.5 L374.1 332.8 L375.1 329.5 L376.1 331.9 L377.1 327.5 L378.1 327.8 L379.1 332.8 L380.1 330.8 L381.1 328.2 L382.1 327.7 L383.1 328.3 L384.1 327.2 L385.1 322.3 L386.1 323.7 L387.1 324.8 L388.1 321.3 L389.1 317.8 L390.1 315.5 L391.1 318.4 L392.1 318.5 L393.1 318.5 L394.1 316.6 L395.1 312.7 L396.1 309.5 L397.1 307.9 L398.1 310.0 L399.1 305.8 L400.1 304.9 L401.1 304.8 L402.1 310.3 L403.1 304.4 L404.1 303.7 L405.1 298.0 L406.1 300.8 L407.1 297.2 L408.1 296.2 L409.1 292.0 L410.1 292.1 L411.1 290.3 L412.1 288.2 L413.1 288.7 L414.1 287.9 L415.1 289.4 L416.1 286.7 L417.1 279.1 L418.1 283.4 L419.1 280.3 L420.1 280.6 L421.1 280.1 L422.1 284.7 L423.1 271.9 L424.1 280.0 L425.1 277.4 L426.1 268.5 L427.1 277.9 L428.1 269.4 L429.1 269.8 L430.1 272.7 L431.1 263.0 L432.1 266.8 L433.1 265.7 L434.1 269.1 L435.1 268.1 L436.1 266.1 L437.1 278.8 L438.1 273.4 L439.1 280.9 L440.1 282.8 L441.1 290.5 L442.1 290.6 L443.1 290.0 L444.1 288.6 L445.1 293.2 L446.1 295.2 L447.1 297.3 L448.1 304.6 L449.1 299.1 L450.1 306.4 L451.1 306.9 L452.1 312.1 L453.1 313.7 L454.1 314.9 L455.1 322.1 L456.1 315.2 L457.1 321.4 L458.1 322.0 L459.1 326.1 L460.1 328.2 L461.1 331.7 L462.1 330.7 L463.1 334.1 L464.1 332.0 L465.1 330.3 L466.1 336.5 L467.1 335.5 L468.1 335.6 L469.1 333.7 L470.1 333.7 L471.1 335.3 L472.1 335.4 L473.1 335.9 L474.1 336.4 L475.1 336.4 L476.1 336.5 L477.1 336.1 L478.1 335.8 L479.1 336.7 L480.1 335.0 L481.1 335.9 L482.1 335.1 L483.1 337.6 L484.1 336.7 L485.1 335.7 L486.1 335.4 L487.1 336.0 L488.1 333.7 L489.1 336.0 L490.1 333.9 L491.1 333.9 L492.1 334.8 L493.1 335.1 L494.1 335.0 L495.1 335.9 L496.1 337.2 L497.1 336.4 L498.1 336.6 L499.1 336.3 L500.1 336.8 L501.1 336.8" fill="none" stroke="#808080" stroke-width="2.6" stroke-linejoin="round"/>
<path d="M348.2 339.1 L349.2 338.2 L350.2 338.3 L351.2 338.8 L352.2 338.5 L353.2 338.4 L354.2 338.5 L355.2 338.5 L356.2 338.1 L357.2 337.9 L358.2 337.6 L359.2 338.5 L360.2 338.9 L361.2 338.1 L362.2 338.6 L363.2 338.8 L364.2 337.2 L365.2 337.4 L366.2 337.7 L367.2 337.3 L368.2 336.5 L369.2 336.2 L370.2 335.3 L371.2 335.6 L372.2 337.6 L373.2 337.2 L374.2 332.8 L375.2 333.5 L376.2 336.5 L377.2 332.7 L378.2 332.5 L379.2 331.5 L380.2 332.0 L381.2 330.9 L382.2 332.0 L383.2 332.6 L384.2 329.4 L385.2 327.9 L386.2 327.8 L387.2 329.2 L388.2 326.3 L389.2 326.0 L390.2 322.4 L391.2 325.5 L392.2 324.6 L393.2 323.3 L394.2 321.2 L395.2 318.6 L396.2 319.2 L397.2 322.3 L398.2 320.5 L399.2 313.7 L400.2 315.7 L401.2 315.5 L402.2 313.0 L403.2 311.5 L404.2 308.0 L405.2 310.9 L406.2 312.5 L407.2 312.6 L408.2 307.1 L409.2 308.5 L410.2 307.0 L411.2 305.1 L412.2 307.7 L413.2 299.6 L414.2 303.3 L415.2 301.9 L416.2 301.0 L417.2 298.9 L418.2 299.4 L419.2 298.7 L420.2 295.4 L421.2 292.6 L422.2 293.1 L423.2 297.3 L424.2 293.6 L425.2 287.1 L426.2 289.9 L427.2 288.3 L428.2 288.2 L429.2 282.1 L430.2 287.5 L431.2 286.7 L432.2 281.1 L433.2 287.9 L434.2 283.2 L435.2 274.1 L436.2 279.3 L437.2 277.0 L438.2 283.8 L439.2 278.3 L440.2 283.0 L441.2 284.5 L442.2 287.4 L443.2 287.3 L444.2 290.7 L445.2 288.4 L446.2 299.2 L447.2 298.5 L448.2 298.2 L449.2 302.4 L450.2 302.0 L451.2 308.6 L452.2 307.6 L453.2 311.9 L454.2 318.9 L455.2 322.1 L456.2 315.5 L457.2 318.7 L458.2 322.7 L459.2 326.3 L460.2 329.6 L461.2 327.7 L462.2 327.8 L463.2 326.4 L464.2 330.9 L465.2 331.6 L466.2 332.2 L467.2 330.9 L468.2 331.0 L469.2 331.5 L470.2 335.1 L471.2 335.1 L472.2 337.4 L473.2 337.8" fill="none" stroke="#5a5a5a" stroke-width="2.3" stroke-linejoin="round"/>
<path d="M338.0 338.9 L339.0 338.3 L340.0 337.9 L341.0 337.5 L342.0 339.1 L343.0 338.9 L344.0 339.0 L345.0 338.6 L346.0 338.5 L347.0 339.1 L348.0 338.2 L349.0 339.0 L350.0 337.7 L351.0 338.3 L352.0 337.3 L353.0 337.0 L354.0 337.0 L355.0 337.0 L356.0 336.9 L357.0 336.9 L358.0 334.0 L359.0 335.0 L360.0 332.7 L361.0 334.2 L362.0 333.6 L363.0 334.4 L364.0 333.1 L365.0 334.6 L366.0 329.6 L367.0 328.9 L368.0 327.4 L369.0 326.9 L370.0 331.1 L371.0 332.1 L372.0 326.3 L373.0 326.3 L374.0 327.6 L375.0 326.4 L376.0 321.6 L377.0 318.2 L378.0 319.8 L379.0 321.1 L380.0 316.6 L381.0 315.0 L382.0 319.6 L383.0 314.4 L384.0 317.6 L385.0 314.0 L386.0 311.4 L387.0 310.8 L388.0 313.1 L389.0 306.5 L390.0 309.6 L391.0 302.4 L392.0 308.3 L393.0 303.4 L394.0 302.7 L395.0 302.4 L396.0 298.7 L397.0 297.3 L398.0 291.3 L399.0 293.9 L400.0 290.6 L401.0 296.1 L402.0 288.2 L403.0 287.9 L404.0 285.7 L405.0 284.6 L406.0 290.7 L407.0 290.7 L408.0 287.4 L409.0 285.4 L410.0 277.2 L411.0 286.7 L412.0 278.9 L413.0 274.5 L414.0 277.6 L415.0 281.1 L416.0 278.1 L417.0 271.7 L418.0 269.4 L419.0 270.9 L420.0 267.4 L421.0 261.9 L422.0 266.7 L423.0 257.2 L424.0 266.8 L425.0 256.1 L426.0 269.0 L427.0 259.7 L428.0 265.6 L429.0 272.3 L430.0 267.3 L431.0 266.6 L432.0 267.1 L433.0 270.9 L434.0 276.1 L435.0 281.4 L436.0 284.9 L437.0 285.2 L438.0 290.1 L439.0 293.3 L440.0 299.7 L441.0 301.3 L442.0 304.2 L443.0 306.6 L444.0 316.3 L445.0 317.8 L446.0 321.0 L447.0 322.3 L448.0 320.4 L449.0 327.6 L450.0 328.6 L451.0 330.0 L452.0 333.6 L453.0 333.2 L454.0 333.4 L455.0 334.5 L456.0 334.6 L457.0 335.6 L458.0 335.9 L459.0 338.1 L460.0 334.7 L461.0 336.2 L462.0 337.3 L463.0 337.6 L464.0 338.2 L465.0 339.1" fill="none" stroke="#151515" stroke-width="2.0" stroke-linejoin="round"/>
<path d="M348.2 338.7 L349.2 337.9 L350.2 338.1 L351.2 338.3 L352.2 338.5 L353.2 338.5 L354.2 338.6 L355.2 338.3 L356.2 338.9 L357.2 337.7 L358.2 337.7 L359.2 338.3 L360.2 337.8 L361.2 337.7 L362.2 338.5 L363.2 338.9 L364.2 337.9 L365.2 339.1 L366.2 337.9 L367.2 338.2 L368.2 338.8 L369.2 339.1 L370.2 337.3 L371.2 336.5 L372.2 336.0 L373.2 338.2 L374.2 334.3 L375.2 333.7 L376.2 333.2 L377.2 333.9 L378.2 334.2 L379.2 328.9 L380.2 330.5 L381.2 332.4 L382.2 327.6 L383.2 331.2 L384.2 327.6 L385.2 330.3 L386.2 327.6 L387.2 326.5 L388.2 321.6 L389.2 326.5 L390.2 324.9 L391.2 319.9 L392.2 318.9 L393.2 320.2 L394.2 321.0 L395.2 320.4 L396.2 322.2 L397.2 316.0 L398.2 315.9 L399.2 314.7 L400.2 313.8 L401.2 313.6 L402.2 311.3 L403.2 314.9 L404.2 307.1 L405.2 309.9 L406.2 311.5 L407.2 311.7 L408.2 309.1 L409.2 306.0 L410.2 305.9 L411.2 303.3 L412.2 300.4 L413.2 302.5 L414.2 300.2 L415.2 299.7 L416.2 303.0 L417.2 300.6 L418.2 298.8 L419.2 294.3 L420.2 299.9 L421.2 289.9 L422.2 297.1 L423.2 296.8 L424.2 294.6 L425.2 294.4 L426.2 289.6 L427.2 287.9 L428.2 281.2 L429.2 286.5 L430.2 280.6 L431.2 280.6 L432.2 280.8 L433.2 288.1 L434.2 279.8 L435.2 280.1 L436.2 283.4 L437.2 276.8 L438.2 274.6 L439.2 276.0 L440.2 278.0 L441.2 281.2 L442.2 275.4 L443.2 279.3 L444.2 274.5 L445.2 278.3 L446.2 277.7 L447.2 272.8 L448.2 276.4 L449.2 282.2 L450.2 273.0 L451.2 276.3 L452.2 276.7 L453.2 284.4 L454.2 282.5 L455.2 283.3 L456.2 288.2 L457.2 294.3 L458.2 292.5 L459.2 298.2 L460.2 305.0 L461.2 305.0 L462.2 309.4 L463.2 313.5 L464.2 309.9 L465.2 316.8 L466.2 314.2 L467.2 321.4 L468.2 323.4 L469.2 325.9 L470.2 326.7 L471.2 330.0 L472.2 329.9 L473.2 330.4 L474.2 333.1 L475.2 334.1 L476.2 335.7 L477.2 337.1 L478.2 333.3 L479.2 336.8 L480.2 336.1 L481.2 337.5 L482.2 336.6 L483.2 337.6" fill="none" stroke="#303030" stroke-width="2.0" stroke-linejoin="round"/>
<path d="M296.8 308.3 L297.9 309.0 L299.0 309.0 L300.1 306.6 L301.2 301.7 L302.3 295.6 L303.4 298.1 L304.5 294.8 L305.6 292.4 L306.7 293.9 L307.8 294.2 L308.9 282.2 L310.0 278.5 L311.1 277.6 L312.2 271.2 L313.3 271.8 L314.4 262.5 L315.5 266.2 L316.6 259.2 L317.7 258.9 L318.8 262.3 L319.9 258.9 L321.0 258.4 L322.1 256.0 L323.2 256.7 L324.3 261.9 L325.4 260.0 L326.5 263.0 L327.6 270.8 L328.7 268.9 L329.8 270.3 L330.9 271.5 L332.0 276.1 L333.1 278.1 L334.2 283.8 L335.3 279.8 L336.4 284.6 L337.5 286.5 L338.6 291.1 L339.7 295.8 L340.8 296.0 L341.9 297.9 L343.0 303.6 L344.1 306.5 L345.2 308.6 L346.3 312.3 L347.4 314.6 L348.5 315.3 L349.6 319.9 L350.7 322.1 L351.8 324.7 L352.9 329.2 L354.0 330.2 L355.1 330.8 L356.2 332.0 L357.3 333.1 L358.4 332.7 L359.5 334.4 L360.6 336.1 L361.7 336.4 L362.8 336.8 L363.9 337.4 L365.0 337.8 L366.1 337.6 L367.2 338.3" fill="none" stroke="#151515" stroke-width="1.5" stroke-dasharray="2.2 1.9"/>
<text x="67.5" y="197.6" font-family="Liberation Serif" font-size="16.3" font-weight="bold" text-anchor="start" fill="#111" textLength="87.5" lengthAdjust="spacingAndGlyphs">B6, Not primed</text>
<text x="358.6" y="195.4" font-family="Liberation Serif" font-size="16.3" font-weight="bold" text-anchor="start" fill="#111" textLength="67.4" lengthAdjust="spacingAndGlyphs">B6, Primed</text>
<text x="39.8" y="403.4" font-family="Liberation Serif" font-size="16.3" font-weight="bold" text-anchor="start" fill="#111" textLength="154" lengthAdjust="spacingAndGlyphs">B6.Fcer1g-/-, Not primed</text>
<text x="317.9" y="404.1" font-family="Liberation Serif" font-size="16.3" font-weight="bold" text-anchor="start" fill="#111" textLength="129.6" lengthAdjust="spacingAndGlyphs">B6.Fcer1g-/-, Primed</text>
<text x="3.3" y="23.0" font-family="Liberation Sans" font-size="29" font-weight="bold" text-anchor="start" fill="#222" textLength="20.1" lengthAdjust="spacingAndGlyphs" stroke="#222" stroke-width="0.25">A</text>
<text x="2.0" y="439.6" font-family="Liberation Sans" font-size="29" font-weight="bold" text-anchor="start" fill="#222" textLength="20.8" lengthAdjust="spacingAndGlyphs" stroke="#222" stroke-width="0.25">B</text>
<path d="M46.8 450.8 V780.2 H511.0" fill="none" stroke="#686868" stroke-width="1.5"/>
<path d="M43.3 780.2 H50.3 M43.3 714.3 H50.3 M43.3 648.4 H50.3 M43.3 582.6 H50.3 M43.3 516.7 H50.3 M43.3 450.8 H50.3 M46.8 776.8 V783.2 M139.6 776.8 V783.2 M232.5 776.8 V783.2 M325.3 776.8 V783.2 M418.2 776.8 V783.2 M511.0 776.8 V783.2" stroke="#686868" stroke-width="1.2"/>
<text x="39.2" y="782.4" font-family="Liberation Serif" font-size="12.3" font-weight="bold" text-anchor="end" fill="#111">0</text>
<text x="39.2" y="716.5" font-family="Liberation Serif" font-size="12.3" font-weight="bold" text-anchor="end" fill="#111">0.2</text>
<text x="39.2" y="650.6" font-family="Liberation Serif" font-size="12.3" font-weight="bold" text-anchor="end" fill="#111">0.4</text>
<text x="39.2" y="584.8" font-family="Liberation Serif" font-size="12.3" font-weight="bold" text-anchor="end" fill="#111">0.6</text>
<text x="39.2" y="518.9" font-family="Liberation Serif" font-size="12.3" font-weight="bold" text-anchor="end" fill="#111">0.8</text>
<text x="39.2" y="453.0" font-family="Liberation Serif" font-size="12.3" font-weight="bold" text-anchor="end" fill="#111">1</text>
<text x="46.8" y="797.5" font-family="Liberation Serif" font-size="12.3" font-weight="bold" text-anchor="middle" fill="#111">0</text>
<text x="139.6" y="797.5" font-family="Liberation Serif" font-size="12.3" font-weight="bold" text-anchor="middle" fill="#111">10</text>
<text x="232.5" y="797.5" font-family="Liberation Serif" font-size="12.3" font-weight="bold" text-anchor="middle" fill="#111">20</text>
<text x="325.3" y="797.5" font-family="Liberation Serif" font-size="12.3" font-weight="bold" text-anchor="middle" fill="#111">30</text>
<text x="418.2" y="797.5" font-family="Liberation Serif" font-size="12.3" font-weight="bold" text-anchor="middle" fill="#111">40</text>
<text x="511.0" y="797.5" font-family="Liberation Serif" font-size="12.3" font-weight="bold" text-anchor="middle" fill="#111">50</text>
<text x="240.0" y="816.3" font-family="Liberation Serif" font-size="13.2" font-weight="normal" text-anchor="start" fill="#111" textLength="117" lengthAdjust="spacingAndGlyphs">Days After Transplant</text>
<text x="11.8" y="674.8" font-family="Liberation Serif" font-size="14" font-weight="bold" text-anchor="start" fill="#111" textLength="117" lengthAdjust="spacingAndGlyphs" transform="rotate(-90 11.8 674.8)">Proportion Surviving</text>
<path d="M46.8 450.8 H511.0" stroke="#444" stroke-width="1.6" fill="none"/>
<path d="M102.5 450.8 L102.5 492.0" stroke="#444" stroke-width="1.6" fill="none"/>
<path d="M111.8 450.8 L111.8 615.5" stroke="#444" stroke-width="1.6" fill="none"/>
<path d="M102.5 492.0 L111.8 492.0" stroke="#444" stroke-width="1.6" fill="none"/>
<path d="M111.8 533.2 L121.1 533.2" stroke="#444" stroke-width="1.6" fill="none"/>
<path d="M121.1 533.2 L121.1 697.9" stroke="#444" stroke-width="1.6" fill="none"/>
<path d="M111.8 615.5 L121.1 615.5" stroke="#444" stroke-width="1.6" fill="none"/>
<path d="M121.1 656.7 L130.4 656.7" stroke="#444" stroke-width="1.6" fill="none"/>
<path d="M130.4 656.7 L130.4 780.2" stroke="#444" stroke-width="1.6" fill="none"/>
<path d="M121.1 697.9 L130.4 697.9" stroke="#444" stroke-width="1.6" fill="none"/>
<path d="M111.8 492.0 L130.4 492.0" stroke="#444" stroke-width="1.6" fill="none"/>
<path d="M121.1 533.2 L130.4 533.2" stroke="#444" stroke-width="1.6" fill="none"/>
<path d="M121.1 492.0 L121.1 533.2" stroke="#444" stroke-width="1.5" fill="none" stroke-dasharray="6 2.7"/>
<path d="M130.4 492.0 L130.4 533.2" stroke="#444" stroke-width="1.5" fill="none" stroke-dasharray="6 2.7"/>
<path d="M130.4 533.2 L148.9 533.2" stroke="#444" stroke-width="1.5" fill="none" stroke-dasharray="6 2.7"/>
<path d="M148.9 533.2 L148.9 615.5" stroke="#444" stroke-width="1.5" fill="none" stroke-dasharray="6 2.7"/>
<path d="M148.9 574.3 L511.0 574.3" stroke="#444" stroke-width="1.5" fill="none" stroke-dasharray="6 2.7"/>
<path d="M148.9 615.5 L511.0 615.5" stroke="#444" stroke-width="1.5" fill="none" stroke-dasharray="6 2.7"/>
<rect x="99.0" y="447.3" width="7" height="7" fill="#222"/>
<rect x="108.3" y="447.3" width="7" height="7" fill="#222"/>
<path d="M111.8 448.2 L114.4 452.8 L109.2 452.8Z" fill="none" stroke="#aaa" stroke-width="0.8"/>
<rect x="99.0" y="488.5" width="7" height="7" fill="#222"/>
<rect x="108.3" y="488.5" width="7" height="7" fill="#222"/>
<path d="M121.1 488.4 L124.8 494.9 L117.4 494.9Z" fill="#fff" stroke="#333" stroke-width="1.3" stroke-linejoin="miter"/>
<rect x="127.4" y="489.0" width="6.0" height="6.0" fill="#fff" stroke="#333" stroke-width="1.4"/>
<path d="M111.8 529.0 L116.0 536.4 L107.6 536.4Z" fill="#222"/>
<path d="M121.1 529.0 L125.3 536.4 L116.9 536.4Z" fill="#222"/>
<rect x="127.4" y="530.2" width="6.0" height="6.0" fill="#fff" stroke="#333" stroke-width="1.4"/>
<rect x="145.9" y="530.2" width="6.0" height="6.0" fill="#fff" stroke="#333" stroke-width="1.4"/>
<path d="M148.9 530.6 L151.4 535.4 L146.4 535.4Z" fill="#bbb" stroke="#333" stroke-width="1.1"/>
<rect x="145.9" y="571.3" width="6.0" height="6.0" fill="#fff" stroke="#333" stroke-width="1.4"/>
<path d="M148.9 611.9 L152.6 618.4 L145.2 618.4Z" fill="#fff" stroke="#333" stroke-width="1.3" stroke-linejoin="miter"/>
<rect x="108.3" y="612.0" width="7" height="7" fill="#222"/>
<rect x="117.6" y="612.0" width="7" height="7" fill="#222"/>
<path d="M121.1 652.5 L125.3 659.9 L116.9 659.9Z" fill="#222"/>
<path d="M130.4 652.5 L134.6 659.9 L126.2 659.9Z" fill="#222"/>
<rect x="117.6" y="694.4" width="7" height="7" fill="#222"/>
<rect x="126.9" y="694.4" width="7" height="7" fill="#222"/>
<rect x="126.9" y="776.7" width="7" height="7" fill="#222"/>
<rect x="508.0" y="571.3" width="6.0" height="6.0" fill="#fff" stroke="#333" stroke-width="1.4"/>
<path d="M511.0 611.9 L514.7 618.4 L507.3 618.4Z" fill="#fff" stroke="#333" stroke-width="1.3" stroke-linejoin="miter"/>
<circle cx="46.8" cy="450.8" r="4.7" fill="#333"/>
<circle cx="511.0" cy="450.8" r="4.7" fill="#333"/>
<circle cx="511.0" cy="450.8" r="3.3" fill="none" stroke="#bbb" stroke-width="0.9"/>
<text x="265.0" y="471.2" font-family="Liberation Serif" font-size="14" font-weight="bold" text-anchor="start" fill="#111" textLength="93" lengthAdjust="spacingAndGlyphs">Nonprimed B6</text>
<text x="265.0" y="483.7" font-family="Liberation Serif" font-size="14" font-weight="bold" text-anchor="start" fill="#111" textLength="156" lengthAdjust="spacingAndGlyphs">Nonprimed B6.Fcer1g-/-</text>
<text x="258.0" y="563.7" font-family="Liberation Serif" font-size="12.6" font-weight="bold" text-anchor="start" fill="#111" textLength="110.8" lengthAdjust="spacingAndGlyphs">Primed B6.Fcer1g -/-</text>
<text x="218.9" y="607.2" font-family="Liberation Serif" font-size="12.6" font-weight="bold" text-anchor="start" fill="#111" textLength="196.3" lengthAdjust="spacingAndGlyphs">Primed B6.Fcer1g-/-, anti-CD4,-CD8</text>
<text x="164.1" y="668.5" font-family="Liberation Serif" font-size="13.5" font-weight="bold" text-anchor="start" fill="#111" textLength="57.5" lengthAdjust="spacingAndGlyphs">Primed B6</text>
<text x="174.9" y="696.8" font-family="Liberation Serif" font-size="13.5" font-weight="bold" text-anchor="start" fill="#111" textLength="142.6" lengthAdjust="spacingAndGlyphs">Primed B6, anti-CD4,-CD8</text>
<path d="M367.3 468.2 L389.6 456.2" stroke="#222" stroke-width="1.3"/>
<path d="M396.2 452.7 L390.9 458.7 L388.3 453.8Z" fill="#222"/>
<path d="M428.5 481.1 L449.8 458.6" stroke="#222" stroke-width="1.3"/>
<path d="M455.0 453.2 L451.9 460.6 L447.8 456.7Z" fill="#222"/>
<path d="M160.8 668.1 L129.3 671.7" stroke="#222" stroke-width="1.3"/>
<path d="M121.8 672.5 L128.9 668.9 L129.6 674.4Z" fill="#222"/>
<path d="M171.5 695.4 L137.6 711.1" stroke="#222" stroke-width="1.3"/>
<path d="M130.8 714.2 L136.4 708.5 L138.8 713.6Z" fill="#222"/>
</svg>
</body></html>
